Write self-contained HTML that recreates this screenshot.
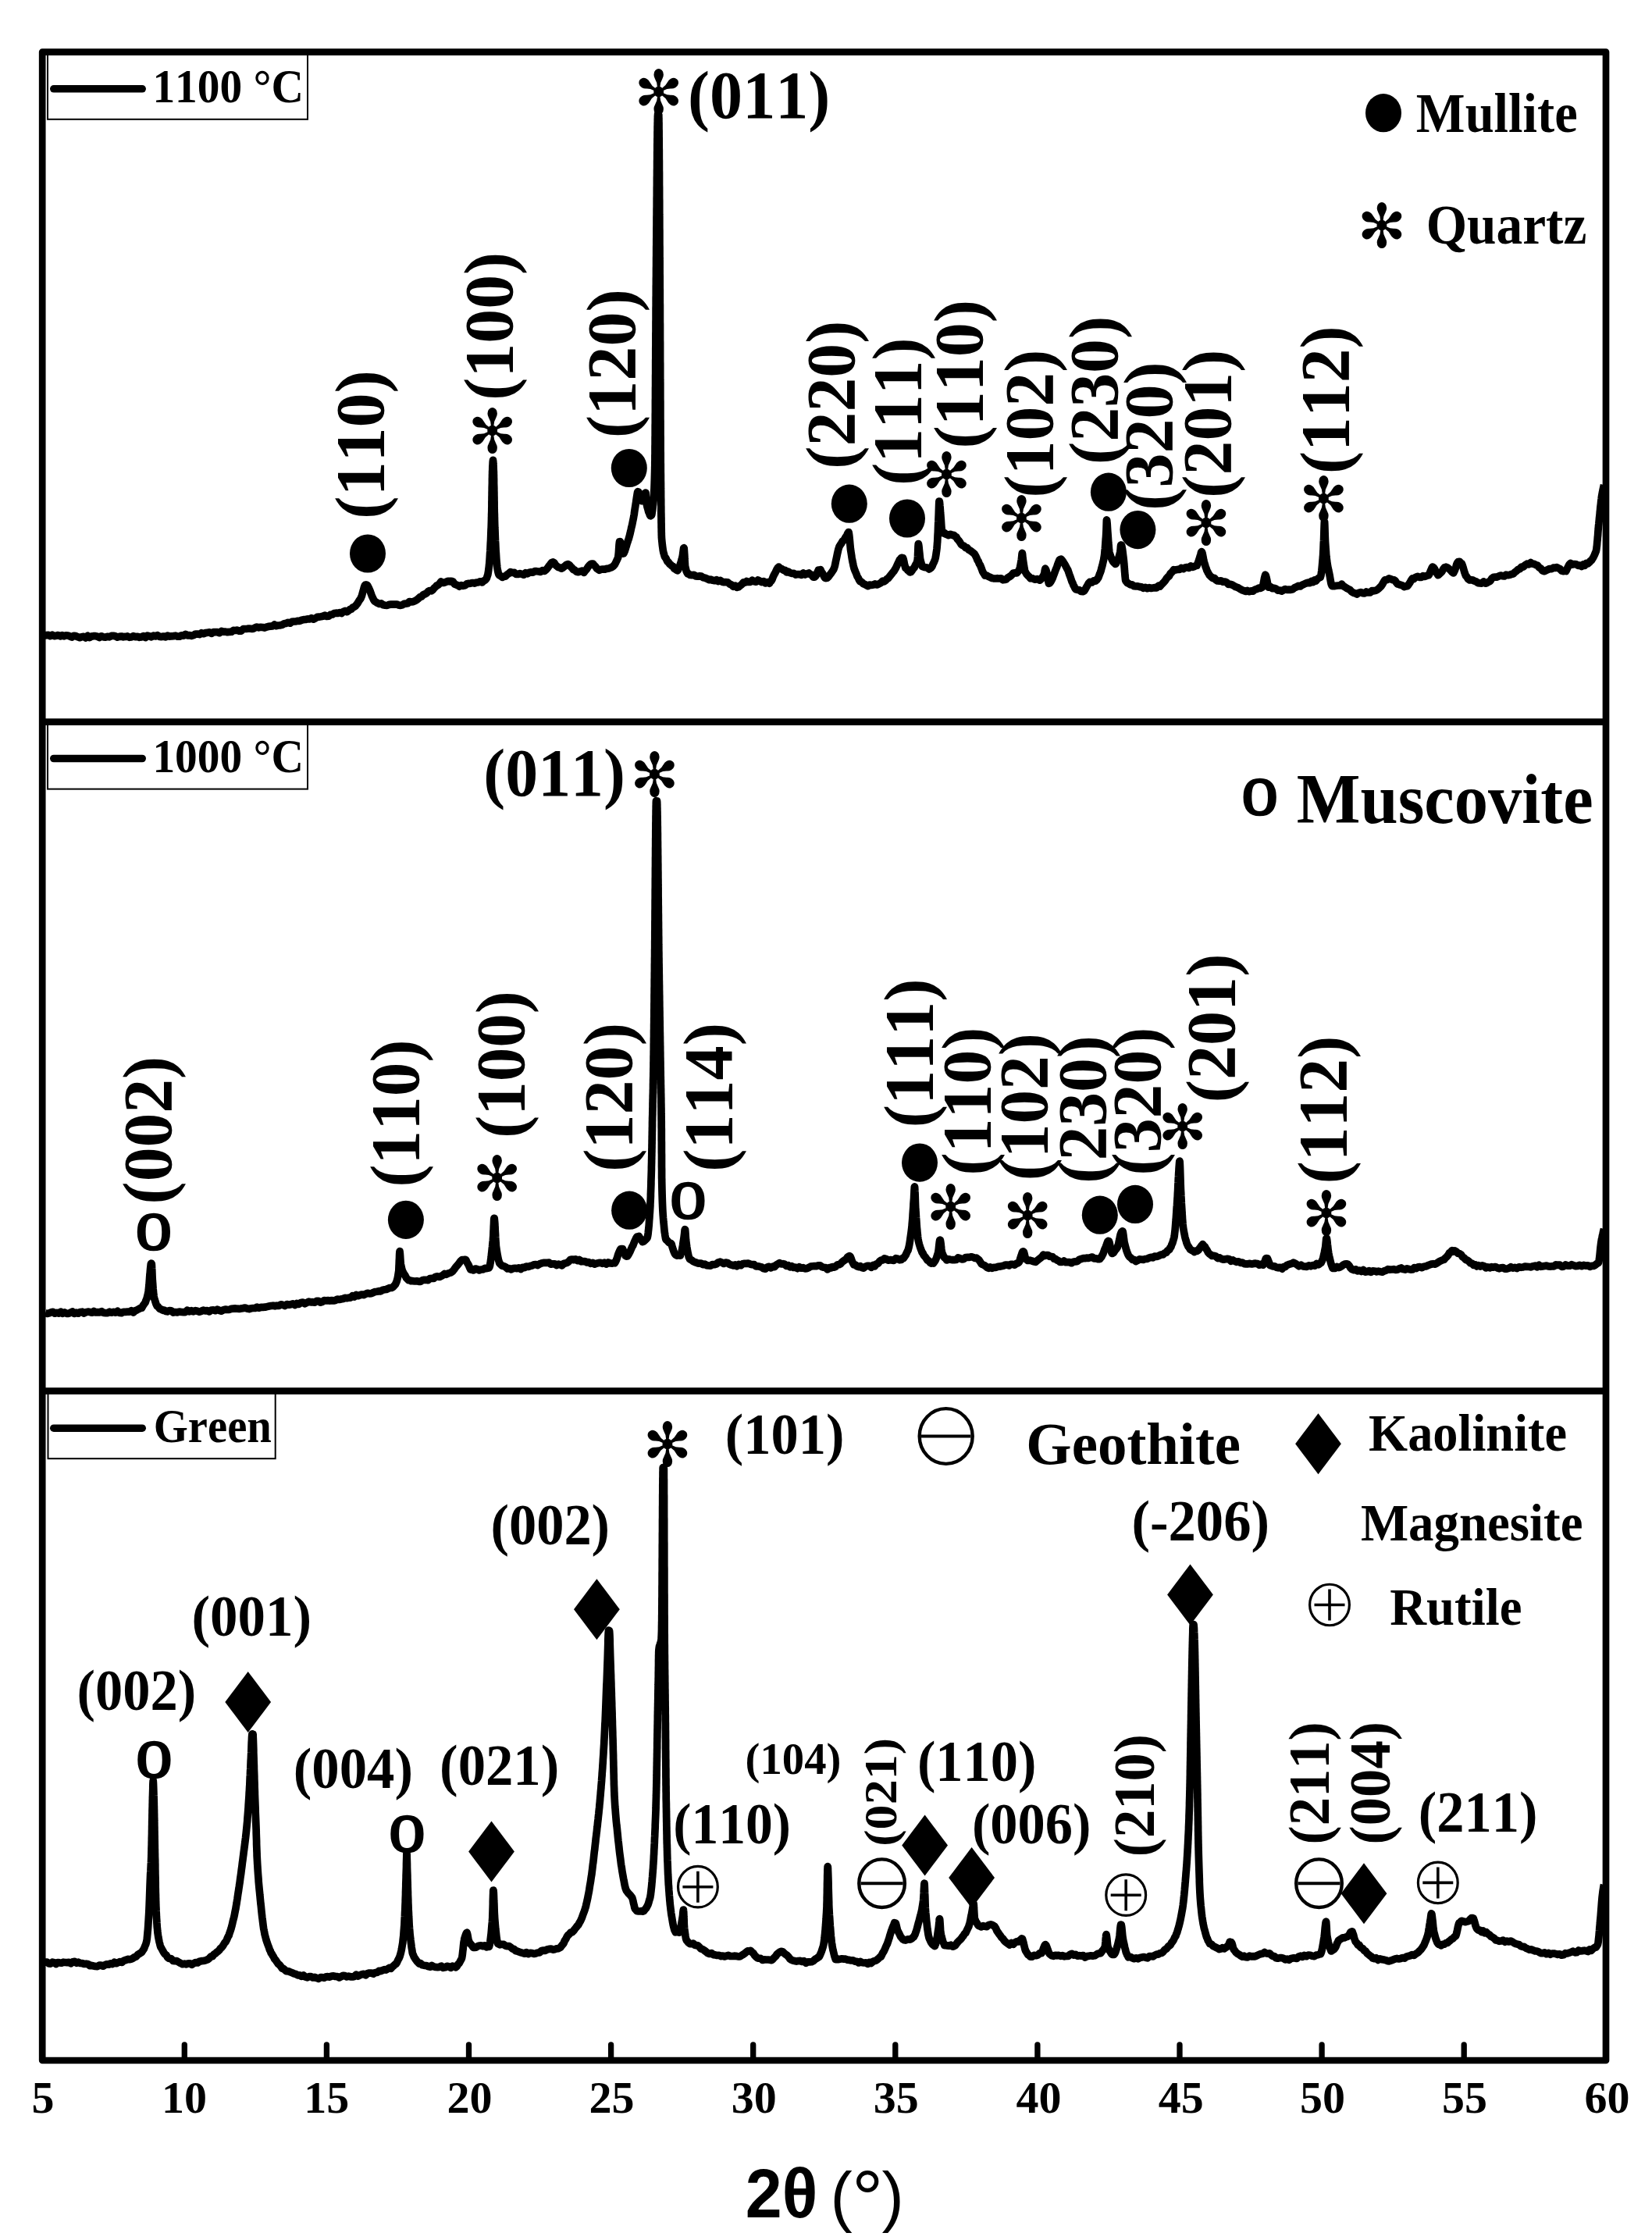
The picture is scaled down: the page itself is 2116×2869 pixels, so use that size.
<!DOCTYPE html>
<html><head><meta charset="utf-8"><title>XRD patterns</title>
<style>html,body{margin:0;padding:0;background:#fff}svg{display:block}text{font-kerning:none;fill:#000}</style></head>
<body><svg width="2116" height="2869" viewBox="0 0 2116 2869">
<rect width="2116" height="2869" fill="#fff"/>
<rect x="61" y="69.5" width="333" height="83.30000000000001" fill="#fff" stroke="#000" stroke-width="2"/>
<path d="M68.8 113.8H182.2" stroke="#000" stroke-width="9.6" stroke-linecap="round"/>
<rect x="61" y="927.5" width="333" height="83.10000000000002" fill="#fff" stroke="#000" stroke-width="2"/>
<path d="M68.8 971.5H182.2" stroke="#000" stroke-width="9.6" stroke-linecap="round"/>
<rect x="61.5" y="1785" width="291.2" height="83.20000000000005" fill="#fff" stroke="#000" stroke-width="2"/>
<path d="M68.8 1829.2H182.2" stroke="#000" stroke-width="9.6" stroke-linecap="round"/>
<g fill="none" stroke="#000" stroke-width="8.7" stroke-linejoin="round">
<rect x="54.2" y="66.6" width="2002.8" height="2572.4"/>
<path d="M54.2 924.6H2057.0M54.2 1781.7H2057.0"/>
</g>
<path d="M236.3 2639.0V2619M418.4 2639.0V2619M600.5 2639.0V2619M782.6 2639.0V2619M964.7 2639.0V2619M1146.8 2639.0V2619M1328.9 2639.0V2619M1511.0 2639.0V2619M1693.1 2639.0V2619M1875.2 2639.0V2619" stroke="#000" stroke-width="7.3" stroke-linecap="round" fill="none"/>
<text transform="translate(40.60,2706.00) scale(1.0000,1)" font-family="Liberation Serif, serif" font-weight="bold" font-size="58">5</text>
<text transform="translate(207.08,2706.00) scale(1.0000,1)" font-family="Liberation Serif, serif" font-weight="bold" font-size="58">10</text>
<text transform="translate(389.14,2706.00) scale(1.0000,1)" font-family="Liberation Serif, serif" font-weight="bold" font-size="58">15</text>
<text transform="translate(572.39,2706.00) scale(1.0000,1)" font-family="Liberation Serif, serif" font-weight="bold" font-size="58">20</text>
<text transform="translate(754.44,2706.00) scale(1.0000,1)" font-family="Liberation Serif, serif" font-weight="bold" font-size="58">25</text>
<text transform="translate(936.71,2706.00) scale(1.0000,1)" font-family="Liberation Serif, serif" font-weight="bold" font-size="58">30</text>
<text transform="translate(1118.77,2706.00) scale(1.0000,1)" font-family="Liberation Serif, serif" font-weight="bold" font-size="58">35</text>
<text transform="translate(1301.61,2706.00) scale(1.0000,1)" font-family="Liberation Serif, serif" font-weight="bold" font-size="58">40</text>
<text transform="translate(1483.67,2706.00) scale(1.0000,1)" font-family="Liberation Serif, serif" font-weight="bold" font-size="58">45</text>
<text transform="translate(1665.04,2706.00) scale(1.0000,1)" font-family="Liberation Serif, serif" font-weight="bold" font-size="58">50</text>
<text transform="translate(1847.10,2706.00) scale(1.0000,1)" font-family="Liberation Serif, serif" font-weight="bold" font-size="58">55</text>
<text transform="translate(2029.41,2706.00) scale(1.0000,1)" font-family="Liberation Serif, serif" font-weight="bold" font-size="58">60</text>
<text transform="translate(195.40,131.00) scale(0.9493,1)" font-family="Liberation Serif, serif" font-weight="bold" font-size="60.5">1100 °C</text>
<text transform="translate(195.40,988.80) scale(0.9493,1)" font-family="Liberation Serif, serif" font-weight="bold" font-size="60.5">1000 °C</text>
<text transform="translate(196.73,1846.50) scale(0.9371,1)" font-family="Liberation Serif, serif" font-weight="bold" font-size="60.5">Green</text>
<path d="M57.0,814.0 59.5,813.6 62.0,813.3 64.5,814.7 67.0,813.2 69.5,814.6 72.0,814.2 74.6,813.5 77.1,814.8 79.6,813.6 82.1,814.8 84.6,813.8 87.1,814.0 89.6,815.0 92.1,816.1 94.6,814.3 97.1,814.6 99.6,815.8 102.1,816.7 104.6,815.7 107.1,815.3 109.7,816.9 112.2,814.4 114.7,816.6 117.2,815.1 119.7,814.7 122.2,814.6 124.7,815.2 127.3,816.6 129.8,814.8 132.4,815.9 135.0,816.1 137.5,815.3 140.1,815.8 142.7,814.4 145.3,814.4 147.8,814.8 150.4,816.1 153.0,815.4 155.5,815.0 158.1,815.8 160.7,815.4 163.2,814.9 165.8,816.3 168.4,816.0 171.0,814.7 173.5,815.6 176.1,815.4 178.7,816.3 181.2,815.9 183.8,814.6 186.4,816.5 188.9,814.1 191.5,814.9 194.1,815.8 196.7,814.1 199.2,815.0 201.8,813.7 204.4,815.4 206.9,815.6 209.5,815.0 212.1,815.8 214.6,814.2 217.2,815.1 219.7,814.8 222.3,814.6 224.9,814.2 227.4,815.1 230.0,815.2 232.5,813.8 235.1,814.1 237.7,812.4 240.2,813.9 242.8,813.6 245.3,814.3 247.9,813.6 250.5,812.0 253.0,812.1 255.6,812.6 258.2,810.7 260.7,811.6 263.3,810.6 265.8,810.2 268.4,809.8 271.0,811.4 273.5,809.5 276.1,809.6 278.6,809.7 281.2,810.7 283.8,808.4 286.3,809.1 288.9,809.1 291.4,809.7 294.0,809.3 296.5,809.2 299.0,807.4 301.5,807.5 304.0,807.1 306.5,808.2 309.0,808.1 311.5,805.7 314.0,805.5 316.5,805.3 319.0,805.0 321.5,805.3 324.0,805.3 326.5,804.1 329.0,803.1 331.5,803.8 334.0,803.3 336.5,803.5 339.0,804.1 341.5,803.1 344.0,802.3 346.5,802.1 349.0,801.9 351.5,800.0 354.0,801.7 356.5,801.0 359.0,800.8 361.5,800.2 364.0,798.8 366.5,798.4 369.0,797.3 371.5,798.2 374.0,796.4 376.5,796.0 379.0,795.9 381.5,795.3 383.9,795.3 386.4,794.2 388.9,793.6 391.4,793.5 393.8,792.9 396.3,793.0 398.8,791.7 401.2,793.2 403.7,792.1 406.2,790.4 408.6,790.1 411.1,789.8 413.6,789.3 416.1,788.2 418.5,789.4 421.0,789.2 423.3,787.4 425.7,787.0 428.0,785.6 430.4,785.2 432.7,785.4 435.1,784.7 437.4,785.5 439.8,783.4 442.1,782.4 444.5,783.7 446.8,781.9 448.5,780.3 450.1,780.1 451.8,778.0 453.5,777.4 455.1,776.4 456.8,774.3 458.5,772.0 460.1,769.1 461.8,766.8 462.7,764.9 463.6,762.7 464.4,759.4 465.3,756.4 466.2,752.9 467.1,750.2 467.9,749.1 468.8,749.3 469.9,749.1 471.0,750.3 472.0,752.3 473.1,754.8 474.2,757.3 475.3,760.6 476.4,763.4 477.5,765.8 478.5,768.0 479.6,769.9 480.7,770.5 483.2,772.2 485.8,773.5 488.3,772.9 490.8,774.7 493.4,775.2 495.9,775.5 498.4,774.3 500.9,774.1 503.5,774.2 506.0,774.2 508.3,774.1 510.6,775.0 513.0,775.4 515.3,774.8 517.6,773.4 519.9,773.2 522.2,772.8 524.5,770.5 526.9,771.0 529.2,770.7 531.5,769.6 533.6,768.5 535.8,766.7 537.9,764.7 540.0,764.1 542.1,761.7 544.2,760.9 546.4,759.7 548.5,757.4 550.5,756.5 552.5,756.8 554.5,755.3 556.2,753.1 558.0,751.5 559.7,749.7 561.4,749.1 563.1,747.4 564.9,745.0 566.6,746.1 569.0,746.3 571.5,745.3 573.9,744.3 576.3,744.8 578.3,744.3 580.3,745.1 582.3,748.2 584.4,748.9 586.4,749.7 588.4,751.2 590.8,749.7 593.2,750.4 595.7,749.8 598.1,747.8 600.5,747.4 602.9,747.1 605.4,746.6 607.8,747.1 610.2,746.0 612.6,745.9 615.1,744.8 617.5,745.9 619.5,744.0 621.5,742.9 622.5,741.9 623.5,740.2 624.5,736.9 624.9,735.9 625.2,733.8 625.6,731.5 625.9,728.9 626.3,725.8 626.5,724.1 626.7,721.8 626.9,719.3 627.1,716.7 627.3,713.6 627.4,711.9 627.5,710.1 627.6,708.2 627.8,706.1 627.9,704.1 628.0,702.0 628.1,699.8 628.2,697.4 628.3,695.1 628.5,692.6 628.6,690.0 628.7,687.4 628.8,684.5 628.9,681.6 629.0,678.6 629.2,675.4 629.3,672.0 629.4,668.6 629.5,665.0 629.5,663.3 629.6,661.4 629.6,659.2 629.7,656.9 629.8,654.4 629.8,651.8 629.9,649.0 629.9,646.1 629.9,643.2 630.0,640.1 630.0,637.1 630.1,634.0 630.1,630.9 630.2,627.8 630.2,624.8 630.3,621.8 630.4,618.9 630.4,616.2 630.4,613.5 630.5,611.0 630.5,608.6 630.6,606.5 630.6,604.4 630.7,602.8 630.8,601.3 630.8,599.9 630.9,597.0 631.1,594.2 631.2,591.7 631.4,590.3 631.5,589.4 631.6,590.1 631.8,591.8 631.9,594.2 632.1,596.9 632.2,600.0 632.2,601.2 632.3,602.7 632.4,604.5 632.4,606.4 632.5,608.6 632.5,611.0 632.6,613.5 632.6,616.2 632.6,618.9 632.7,621.8 632.8,624.8 632.8,627.8 632.9,630.9 632.9,634.0 633.0,637.1 633.0,640.2 633.1,643.1 633.1,646.1 633.1,648.9 633.2,651.8 633.2,654.4 633.3,656.9 633.4,659.2 633.4,661.4 633.5,663.3 633.5,665.0 633.6,668.6 633.7,672.1 633.8,675.4 634.0,678.7 634.1,681.7 634.2,684.6 634.3,687.6 634.4,690.2 634.5,692.8 634.7,695.5 634.8,697.8 634.9,700.2 635.0,702.2 635.1,704.5 635.2,706.4 635.4,708.5 635.5,710.2 635.6,712.0 635.7,713.7 635.9,716.8 636.1,719.5 636.4,722.1 636.6,724.6 636.8,726.4 637.0,727.8 637.6,731.1 638.2,733.8 638.9,735.7 639.5,736.7 641.4,737.7 643.4,739.4 645.3,738.4 647.4,738.2 649.5,736.0 651.7,734.5 653.8,732.7 656.2,733.5 658.7,733.3 661.1,735.5 663.6,735.5 666.0,734.6 668.4,735.3 670.8,736.2 673.1,733.7 675.5,734.8 677.9,733.3 680.2,732.9 682.6,733.2 685.0,731.7 687.5,731.7 690.0,732.0 692.4,732.5 694.9,730.6 697.4,731.4 699.2,730.0 701.0,728.0 702.8,725.4 704.7,723.1 706.5,720.8 708.3,720.0 710.0,721.0 711.7,723.8 713.4,725.2 715.1,726.7 716.8,726.8 719.0,728.2 721.1,727.1 723.3,725.3 725.4,723.4 727.6,722.7 729.3,723.7 731.0,725.7 732.6,727.3 734.3,729.5 736.0,730.0 738.4,732.2 740.8,732.7 743.2,731.9 745.6,731.2 748.0,733.3 749.7,730.9 751.3,729.2 753.0,726.4 754.7,724.4 756.3,722.7 758.0,722.0 759.6,722.1 761.2,724.2 762.8,725.6 764.4,728.0 766.0,729.2 767.6,730.3 770.0,729.3 772.4,729.0 774.8,729.1 777.2,728.3 779.6,728.2 782.0,727.1 783.4,726.8 784.8,725.7 786.2,724.5 787.5,722.9 788.9,720.1 790.3,717.2 791.7,714.1 791.9,712.4 792.1,710.4 792.4,707.5 792.6,704.2 792.8,701.1 793.0,698.0 793.3,695.4 793.5,693.8 793.7,693.8 794.3,693.6 794.9,696.2 795.5,699.3 796.1,702.8 796.7,705.9 797.3,708.3 797.9,709.1 798.8,709.0 799.6,707.2 800.5,705.2 801.4,702.2 802.3,699.3 803.1,696.5 804.0,693.9 804.6,691.8 805.2,690.4 805.8,688.2 806.4,686.0 807.0,683.7 807.5,681.4 808.1,678.8 808.7,675.9 809.3,673.7 809.9,670.9 810.5,667.9 811.1,665.0 811.5,663.1 811.9,660.6 812.3,658.6 812.6,655.9 813.0,653.3 813.4,650.8 813.8,648.4 814.2,645.6 814.6,643.3 814.9,640.9 815.3,638.3 815.7,635.9 816.1,633.1 816.6,630.4 817.0,629.7 817.8,630.0 818.7,632.2 819.5,634.7 820.3,637.6 821.2,639.8 822.0,641.7 823.0,639.8 824.0,637.7 825.0,634.4 826.0,631.9 827.0,631.0 827.2,632.4 827.4,634.8 827.7,637.9 827.9,641.2 828.1,644.2 828.3,646.0 829.1,649.6 830.0,652.5 830.8,655.8 831.6,657.3 832.4,659.7 833.2,660.8 834.0,659.2 834.4,660.0 834.8,659.1 835.1,657.3 835.5,654.7 835.9,651.8 836.2,648.5 836.6,645.1 837.0,640.9 837.1,639.8 837.2,638.4 837.3,637.0 837.4,635.4 837.5,633.4 837.6,631.6 837.7,629.3 837.9,627.0 838.0,624.4 838.1,621.6 838.2,618.7 838.3,615.4 838.4,611.9 838.5,608.2 838.6,604.2 838.7,600.0 838.7,599.2 838.7,598.3 838.8,597.3 838.8,596.3 838.8,595.2 838.8,593.9 838.8,592.7 838.8,591.3 838.9,589.8 838.9,588.3 838.9,586.7 838.9,585.1 838.9,583.3 839.0,581.5 839.0,579.6 839.0,577.7 839.0,575.7 839.0,573.6 839.0,571.5 839.1,569.3 839.1,567.1 839.1,564.8 839.1,562.5 839.1,560.1 839.2,557.6 839.2,555.1 839.2,552.6 839.2,550.0 839.2,547.4 839.2,544.7 839.3,542.0 839.3,539.2 839.3,536.4 839.3,533.6 839.3,530.8 839.4,527.9 839.4,524.9 839.4,522.0 839.4,519.0 839.4,516.0 839.4,512.9 839.5,509.9 839.5,506.8 839.5,503.7 839.5,500.6 839.5,497.4 839.6,494.3 839.6,491.1 839.6,487.9 839.6,484.7 839.6,481.5 839.7,478.3 839.7,475.1 839.7,471.9 839.7,468.7 839.7,465.5 839.7,462.2 839.8,459.0 839.8,455.8 839.8,452.6 839.8,449.4 839.8,446.2 839.9,443.0 839.9,439.8 839.9,436.7 839.9,433.5 839.9,430.4 839.9,427.3 840.0,424.2 840.0,421.1 840.0,418.1 840.0,415.1 840.0,412.1 840.1,409.1 840.1,406.2 840.1,403.2 840.1,400.4 840.1,397.5 840.1,394.7 840.2,391.9 840.2,389.2 840.2,386.5 840.2,383.9 840.2,381.3 840.3,378.7 840.3,376.2 840.3,373.7 840.3,371.3 840.3,368.9 840.3,366.6 840.4,364.3 840.4,362.1 840.4,360.0 840.4,356.9 840.5,353.7 840.5,350.5 840.5,347.3 840.5,344.0 840.6,340.7 840.6,337.4 840.6,334.1 840.6,330.7 840.7,327.3 840.7,323.9 840.7,320.5 840.7,317.1 840.8,313.6 840.8,310.1 840.8,306.6 840.9,303.1 840.9,299.6 840.9,296.2 840.9,292.7 841.0,289.2 841.0,285.6 841.0,282.1 841.0,278.6 841.1,275.2 841.1,271.7 841.1,268.2 841.2,264.7 841.2,261.3 841.2,257.9 841.2,254.4 841.3,251.0 841.3,247.7 841.3,244.3 841.3,241.0 841.4,237.7 841.4,234.4 841.4,231.2 841.4,228.0 841.5,224.8 841.5,221.7 841.5,218.6 841.6,215.5 841.6,212.5 841.6,209.5 841.6,206.6 841.7,203.7 841.7,200.9 841.7,198.1 841.7,195.3 841.8,192.7 841.8,190.0 841.8,187.5 841.8,185.0 841.9,182.5 841.9,180.2 841.9,177.9 842.0,175.6 842.0,173.4 842.0,171.3 842.0,169.3 842.1,167.4 842.1,165.5 842.1,163.7 842.1,162.0 842.2,160.4 842.2,158.8 842.2,157.3 842.3,156.0 842.3,154.7 842.3,153.5 842.3,152.4 842.4,151.5 842.4,150.5 842.4,149.7 842.4,148.9 842.5,148.3 842.5,148.0 842.5,147.4 842.5,147.5 842.6,147.1 842.6,146.1 843.7,146.9 843.7,147.0 843.7,147.2 843.8,147.6 843.8,147.8 843.8,148.4 843.8,148.9 843.8,149.7 843.8,150.4 843.9,151.3 843.9,152.3 843.9,153.4 843.9,154.6 843.9,155.9 844.0,157.2 844.0,158.7 844.0,160.2 844.0,161.8 844.0,163.5 844.0,165.3 844.1,167.1 844.1,169.0 844.1,171.0 844.1,173.1 844.1,175.2 844.2,177.5 844.2,179.7 844.2,182.1 844.2,184.5 844.2,187.0 844.2,189.5 844.3,192.1 844.3,194.8 844.3,197.5 844.3,200.2 844.3,203.1 844.4,205.9 844.4,208.8 844.4,211.8 844.4,214.8 844.4,217.8 844.5,220.9 844.5,224.0 844.5,227.2 844.5,230.4 844.5,233.6 844.5,236.8 844.6,240.1 844.6,243.4 844.6,246.8 844.6,250.1 844.6,253.5 844.7,257.0 844.7,260.4 844.7,263.8 844.7,267.3 844.7,270.8 844.7,274.2 844.8,277.7 844.8,281.2 844.8,284.8 844.8,288.3 844.8,291.8 844.9,295.3 844.9,298.8 844.9,302.4 844.9,305.9 844.9,309.4 844.9,312.9 845.0,316.3 845.0,319.8 845.0,323.3 845.0,326.7 845.0,330.2 845.1,333.6 845.1,337.0 845.1,340.3 845.1,343.7 845.1,347.0 845.1,350.3 845.2,353.6 845.2,356.8 845.2,360.0 845.2,362.1 845.2,364.2 845.2,366.4 845.2,368.6 845.3,370.9 845.3,373.2 845.3,375.5 845.3,377.9 845.3,380.4 845.3,382.8 845.3,385.3 845.3,387.9 845.4,390.5 845.4,393.1 845.4,395.7 845.4,398.4 845.4,401.1 845.4,403.8 845.4,406.6 845.4,409.4 845.4,412.2 845.5,415.1 845.5,417.9 845.5,420.8 845.5,423.7 845.5,426.6 845.5,429.5 845.5,432.5 845.5,435.5 845.6,438.5 845.6,441.4 845.6,444.5 845.6,447.5 845.6,450.5 845.6,453.5 845.6,456.6 845.6,459.6 845.6,462.6 845.7,465.7 845.7,468.7 845.7,471.8 845.7,474.8 845.7,477.9 845.7,480.9 845.7,484.0 845.7,487.0 845.8,490.0 845.8,493.1 845.8,496.1 845.8,499.1 845.8,502.0 845.8,505.0 845.8,508.0 845.8,510.9 845.9,513.8 845.9,516.7 845.9,519.6 845.9,522.5 845.9,525.3 845.9,528.1 845.9,530.9 845.9,533.7 845.9,536.4 846.0,539.2 846.0,541.8 846.0,544.5 846.0,547.1 846.0,549.7 846.0,552.3 846.0,554.8 846.0,557.3 846.1,559.7 846.1,562.1 846.1,564.5 846.1,566.8 846.1,569.1 846.1,571.3 846.1,573.5 846.1,575.6 846.1,577.7 846.2,579.8 846.2,581.8 846.2,583.7 846.2,585.6 846.2,587.4 846.2,589.2 846.2,590.9 846.2,592.6 846.3,594.2 846.3,595.7 846.3,597.2 846.3,598.6 846.3,600.0 846.3,603.8 846.4,607.6 846.4,611.4 846.4,615.1 846.5,618.8 846.5,622.5 846.5,626.0 846.6,629.6 846.6,633.1 846.6,636.5 846.7,639.9 846.7,643.1 846.7,646.3 846.8,649.5 846.8,652.5 846.8,655.5 846.9,658.3 846.9,661.1 847.0,663.8 847.0,666.4 847.0,668.8 847.1,671.2 847.1,673.4 847.1,675.5 847.2,677.5 847.2,679.3 847.2,681.1 847.3,682.7 847.3,684.0 847.3,685.4 847.4,686.5 847.4,687.5 847.4,688.3 847.5,689.0 847.5,689.5 848.0,694.6 848.4,698.5 848.9,702.1 849.3,705.1 849.8,707.5 850.2,708.8 850.6,710.2 851.1,712.1 851.5,713.2 852.0,713.7 853.4,715.9 854.9,719.2 856.3,720.2 857.7,722.4 859.1,723.3 860.6,724.9 862.0,725.3 863.6,728.2 865.3,729.3 866.9,730.3 867.8,730.8 868.7,729.6 869.6,727.2 870.5,725.2 871.3,722.8 872.2,720.1 873.1,716.9 874.0,713.4 874.4,711.4 874.8,708.5 875.2,705.3 875.6,702.3 876.0,701.7 876.2,702.3 876.3,703.7 876.5,706.4 876.7,709.3 876.9,712.7 877.0,716.1 877.2,719.4 877.4,722.2 877.5,724.4 877.7,725.8 878.5,729.0 879.2,731.8 880.0,733.5 880.7,734.8 881.5,734.5 883.9,736.5 886.3,736.7 888.8,736.3 891.2,737.9 893.6,738.2 896.0,737.9 898.4,738.1 900.8,739.8 903.2,740.3 905.6,741.3 908.0,742.6 910.4,742.2 912.9,743.3 915.3,743.7 917.7,742.7 920.1,744.5 922.5,743.3 925.0,745.2 927.4,745.7 929.8,745.7 932.1,745.8 934.5,747.9 936.9,748.9 939.3,751.2 941.6,750.1 944.0,752.3 946.0,751.8 948.1,750.0 950.1,748.6 952.2,745.9 954.2,746.1 956.3,744.5 958.7,745.5 961.1,745.3 963.6,743.2 966.0,744.8 968.4,745.2 970.8,743.0 973.3,744.1 975.7,745.6 978.1,744.6 980.5,746.9 983.0,745.7 985.4,747.3 986.6,745.2 987.8,744.1 989.0,742.2 990.2,738.8 991.4,736.3 992.6,734.3 993.8,731.9 995.0,729.2 996.3,727.3 997.5,726.1 999.5,728.3 1001.5,728.7 1003.5,730.3 1005.6,730.4 1007.6,732.8 1009.6,732.1 1012.0,733.7 1014.4,734.5 1016.8,734.4 1019.2,736.1 1021.6,735.5 1024.0,735.7 1026.4,736.4 1028.8,734.1 1031.2,736.0 1033.6,734.8 1036.0,734.0 1037.9,735.6 1039.8,736.3 1041.6,739.1 1043.5,739.2 1044.7,737.8 1045.9,735.9 1047.1,732.8 1048.3,730.1 1049.5,730.2 1050.9,729.6 1052.3,732.7 1053.8,734.7 1055.2,737.7 1056.6,740.3 1058.0,740.6 1059.6,740.3 1061.2,738.6 1062.8,736.4 1064.5,734.3 1066.1,731.9 1067.7,729.6 1068.3,728.0 1068.9,726.2 1069.5,724.1 1070.1,721.0 1070.7,718.1 1071.3,715.4 1072.0,712.0 1072.6,709.0 1073.2,706.5 1073.8,703.8 1074.4,701.9 1075.0,700.1 1076.4,697.8 1077.8,695.7 1079.2,693.3 1080.5,692.2 1081.9,690.2 1083.3,687.8 1084.5,686.3 1085.8,683.1 1087.0,681.5 1087.3,682.6 1087.6,684.6 1087.9,687.1 1088.2,690.1 1088.5,693.3 1088.8,696.7 1089.1,699.9 1089.4,703.0 1089.7,705.3 1090.2,708.3 1090.7,711.4 1091.1,714.2 1091.6,717.2 1092.1,719.8 1092.6,721.9 1093.1,724.5 1093.5,726.0 1094.0,728.0 1094.5,729.4 1095.7,732.4 1096.9,735.1 1098.1,738.5 1099.2,740.0 1100.4,742.6 1101.6,744.8 1102.8,744.9 1104.0,745.8 1105.9,747.7 1107.9,748.5 1109.8,749.6 1111.8,750.6 1113.7,749.1 1116.1,749.4 1118.5,749.0 1120.9,747.9 1123.4,749.0 1125.8,747.8 1128.2,746.7 1130.6,744.2 1132.4,744.9 1134.2,743.6 1136.0,741.7 1137.8,740.6 1139.6,738.3 1141.4,736.0 1143.2,733.7 1145.0,731.6 1146.0,729.8 1147.1,728.1 1148.1,726.1 1149.2,723.6 1150.2,721.4 1151.3,719.3 1152.3,717.1 1153.5,715.8 1154.8,714.3 1156.0,714.5 1156.6,714.7 1157.3,716.6 1157.9,719.8 1158.6,723.0 1159.2,725.1 1159.8,727.5 1161.2,728.3 1162.6,730.3 1164.0,731.3 1165.4,732.9 1166.8,732.6 1168.2,730.8 1169.7,728.4 1171.1,726.9 1172.5,723.8 1173.4,722.2 1174.3,720.9 1175.2,717.1 1175.3,715.6 1175.5,713.0 1175.6,709.8 1175.8,706.1 1175.9,702.6 1176.0,699.6 1176.2,697.5 1176.3,696.5 1176.6,697.5 1176.9,699.3 1177.2,702.1 1177.5,705.4 1177.9,709.0 1178.2,712.2 1178.5,715.3 1178.8,716.8 1179.6,719.9 1180.4,722.6 1181.2,725.4 1182.0,725.7 1184.0,726.4 1186.0,726.8 1188.0,727.2 1190.0,729.0 1191.2,728.4 1192.5,727.3 1193.8,725.6 1195.0,722.6 1196.2,720.3 1197.5,716.9 1197.8,716.1 1198.2,714.6 1198.5,712.9 1198.9,710.4 1199.2,708.3 1199.6,705.6 1200.0,702.5 1200.3,698.9 1200.4,697.6 1200.5,695.9 1200.7,694.1 1200.8,692.1 1200.9,689.8 1201.0,687.4 1201.1,684.8 1201.3,682.1 1201.4,679.3 1201.5,676.5 1201.6,673.6 1201.7,670.9 1201.9,668.0 1202.0,665.3 1202.1,662.6 1202.2,660.1 1202.3,657.3 1202.4,654.2 1202.5,651.1 1202.6,648.1 1202.7,645.5 1202.8,643.5 1202.9,642.0 1203.0,642.2 1203.2,642.0 1203.5,643.1 1203.7,645.2 1203.9,647.7 1204.2,650.6 1204.4,653.6 1204.6,656.8 1204.9,659.8 1205.1,662.5 1205.3,665.2 1205.5,668.1 1205.7,671.5 1205.9,674.4 1206.1,677.0 1206.3,678.9 1206.5,680.3 1208.0,682.8 1209.6,682.4 1211.2,684.1 1212.7,684.5 1215.0,685.6 1217.2,684.3 1219.5,685.3 1221.7,685.3 1223.3,687.1 1224.8,687.7 1226.4,690.6 1227.9,692.1 1229.5,694.3 1231.0,697.0 1232.6,698.4 1234.7,699.3 1236.8,701.6 1238.9,701.7 1240.9,704.2 1243.0,705.3 1245.1,706.9 1247.2,708.6 1248.4,709.8 1249.6,711.9 1250.8,714.3 1252.0,717.4 1253.2,719.1 1254.4,722.4 1255.4,723.7 1256.5,726.4 1257.5,729.0 1258.6,732.1 1259.6,733.8 1260.7,735.3 1261.7,737.2 1263.9,737.1 1266.1,738.5 1268.2,739.3 1270.4,740.4 1272.6,740.8 1275.0,741.0 1277.4,740.7 1279.8,741.0 1282.2,740.8 1284.6,742.8 1287.0,742.5 1288.8,742.1 1290.7,740.0 1292.5,739.0 1294.3,737.9 1296.2,736.1 1298.0,734.0 1300.2,733.7 1302.5,733.8 1304.7,731.2 1305.3,730.3 1305.9,728.7 1306.5,726.6 1307.1,723.8 1307.7,720.2 1308.3,716.8 1308.5,714.9 1308.8,712.2 1309.0,710.0 1309.3,708.4 1309.6,709.8 1309.8,712.0 1310.1,714.9 1310.4,717.1 1310.8,719.7 1311.3,723.1 1311.7,725.6 1312.1,728.2 1312.6,730.6 1313.0,731.9 1314.7,735.0 1316.5,737.1 1318.2,738.6 1319.9,740.8 1321.7,740.6 1323.4,741.3 1325.8,742.2 1328.3,741.6 1330.7,742.6 1332.0,743.1 1333.4,741.9 1334.7,740.0 1336.1,738.0 1337.4,735.3 1337.9,732.9 1338.4,730.0 1338.9,728.2 1339.7,729.7 1340.5,732.4 1341.3,735.3 1341.7,737.5 1342.1,740.6 1342.6,743.4 1343.0,745.6 1343.4,747.3 1344.5,746.9 1345.7,745.3 1346.8,743.3 1348.0,741.0 1349.1,738.0 1350.3,735.0 1351.4,731.8 1352.6,728.7 1353.7,726.3 1354.5,723.6 1355.4,721.3 1356.2,719.1 1357.1,717.2 1357.9,716.6 1359.2,716.2 1360.5,717.7 1361.8,719.6 1363.2,721.9 1364.5,723.9 1365.8,726.4 1366.8,728.5 1367.8,730.0 1368.8,733.0 1369.8,735.9 1370.8,738.5 1371.8,741.5 1372.9,744.8 1373.9,746.6 1374.9,749.5 1375.9,751.1 1376.9,753.4 1377.9,754.8 1380.2,755.4 1382.5,755.7 1384.7,757.5 1387.0,757.7 1388.5,757.1 1390.0,754.8 1391.5,752.2 1393.0,749.6 1394.5,746.9 1396.0,745.4 1398.4,746.0 1400.9,743.8 1403.3,744.2 1404.2,743.1 1405.0,742.8 1405.9,740.8 1406.7,740.3 1407.6,737.9 1408.4,735.5 1409.3,733.4 1410.2,730.8 1411.0,727.5 1411.9,724.5 1412.7,720.9 1413.6,717.2 1413.8,715.9 1414.0,714.5 1414.3,713.0 1414.5,711.5 1414.7,709.7 1414.9,707.5 1415.1,705.1 1415.4,702.9 1415.6,700.1 1415.8,697.3 1416.0,694.3 1416.2,691.3 1416.5,688.0 1416.7,684.5 1416.9,680.8 1417.0,678.5 1417.1,675.3 1417.2,671.9 1417.3,668.6 1417.4,666.3 1417.5,665.9 1417.7,666.3 1417.9,668.2 1418.2,671.1 1418.4,674.5 1418.6,677.8 1418.8,680.9 1419.0,683.4 1419.2,686.3 1419.4,689.2 1419.6,692.3 1419.8,695.3 1420.1,698.2 1420.3,700.8 1420.5,703.2 1420.7,705.5 1420.9,706.9 1421.1,707.8 1422.2,711.4 1423.3,714.5 1424.4,716.9 1425.4,719.0 1426.5,720.5 1427.6,720.8 1428.7,722.5 1429.7,721.4 1430.7,719.0 1431.7,717.8 1432.6,715.2 1433.6,711.9 1434.6,707.8 1434.9,706.3 1435.2,703.6 1435.4,700.5 1435.7,698.2 1436.0,698.6 1436.4,698.1 1436.8,699.2 1437.2,701.3 1437.7,704.0 1438.1,707.1 1438.5,710.6 1438.9,713.7 1439.3,716.9 1439.5,719.3 1439.8,721.9 1440.0,724.7 1440.3,728.0 1440.5,731.2 1440.8,734.5 1441.0,737.4 1441.3,740.1 1441.5,742.3 1441.8,743.9 1442.0,744.0 1444.0,746.7 1446.0,747.6 1448.0,748.8 1450.0,748.8 1452.4,750.6 1454.9,750.8 1457.3,750.9 1459.8,751.6 1462.2,751.9 1464.6,753.3 1467.1,752.4 1469.5,753.6 1471.9,752.7 1474.3,753.4 1476.8,753.0 1479.2,752.6 1481.6,752.8 1484.0,750.2 1485.7,751.1 1487.4,749.1 1489.1,747.4 1490.9,745.5 1492.6,743.6 1494.3,740.8 1496.0,738.9 1497.5,737.9 1499.0,734.7 1500.4,733.5 1501.9,731.9 1503.4,729.7 1505.8,730.0 1508.3,729.4 1510.7,729.4 1513.1,727.5 1515.6,728.6 1518.0,727.0 1520.4,726.6 1522.8,727.4 1525.2,724.9 1527.5,726.3 1529.9,725.6 1532.3,724.3 1533.1,724.3 1533.9,722.1 1534.8,720.0 1535.6,717.5 1536.4,715.1 1537.2,712.3 1537.9,710.1 1538.5,707.6 1539.2,706.6 1539.7,707.5 1540.2,709.1 1540.8,712.1 1541.3,714.8 1541.8,717.7 1542.3,719.6 1543.2,722.6 1544.1,725.7 1545.0,728.0 1545.8,730.5 1546.7,732.2 1547.6,734.0 1548.5,735.4 1549.4,736.9 1551.4,738.9 1553.4,740.6 1555.5,740.4 1557.5,742.8 1559.5,744.0 1561.5,744.1 1563.9,743.9 1566.4,745.2 1568.8,745.1 1571.2,746.1 1573.6,748.4 1576.1,748.4 1578.5,749.2 1580.6,750.4 1582.8,751.7 1584.9,752.3 1587.1,753.5 1589.2,754.8 1591.4,756.0 1593.5,756.7 1595.7,757.5 1597.8,756.5 1600.2,757.7 1602.6,756.9 1605.0,757.2 1607.4,755.1 1609.8,754.5 1612.2,753.2 1614.6,753.4 1617.0,752.0 1617.7,750.0 1618.3,747.1 1618.9,743.9 1619.5,740.5 1620.2,737.9 1620.8,736.2 1621.5,737.6 1622.2,740.3 1622.9,743.6 1623.6,747.1 1624.3,750.1 1625.0,752.1 1627.4,751.6 1629.7,753.7 1632.1,753.3 1634.4,754.1 1636.8,756.2 1639.1,756.0 1641.5,757.1 1643.8,755.9 1646.2,754.6 1648.6,755.3 1651.0,755.2 1653.4,755.3 1655.8,754.7 1658.2,752.8 1660.6,751.8 1663.0,750.4 1665.4,750.9 1667.9,749.2 1670.3,748.2 1672.7,747.1 1675.1,746.2 1677.6,746.6 1680.0,744.4 1681.9,745.5 1683.8,743.0 1685.6,744.0 1687.5,741.6 1689.4,740.2 1691.3,739.3 1691.6,738.1 1691.9,737.3 1692.2,735.4 1692.5,733.3 1692.8,731.1 1693.1,728.3 1693.4,725.3 1693.7,722.0 1694.0,718.4 1694.3,715.0 1694.4,713.3 1694.6,711.3 1694.7,709.2 1694.8,706.6 1695.0,704.1 1695.1,701.4 1695.2,698.5 1695.3,695.7 1695.5,693.0 1695.6,690.6 1695.7,687.6 1695.8,684.4 1695.9,681.1 1696.0,677.7 1696.1,674.8 1696.2,672.0 1696.3,669.8 1696.4,668.4 1696.5,668.1 1696.6,668.5 1696.7,670.1 1696.8,672.2 1696.9,675.1 1697.0,678.2 1697.1,681.6 1697.2,685.0 1697.3,688.1 1697.4,690.8 1697.5,693.1 1697.7,696.3 1697.9,699.2 1698.1,702.0 1698.3,704.6 1698.5,707.0 1698.6,709.5 1698.8,711.5 1699.0,713.4 1699.2,714.9 1699.6,718.5 1700.1,721.7 1700.5,724.3 1700.9,726.6 1701.4,728.7 1701.8,730.8 1702.3,733.1 1702.7,734.9 1703.3,738.0 1703.8,741.0 1704.4,744.3 1704.9,747.0 1705.5,749.0 1706.0,750.2 1706.6,750.6 1709.0,750.7 1711.4,750.3 1713.9,750.0 1716.3,750.0 1718.5,748.2 1720.6,750.7 1722.8,751.8 1725.0,753.4 1727.2,754.5 1729.3,755.6 1731.5,758.1 1733.7,759.3 1735.8,759.9 1738.0,761.0 1740.4,759.3 1742.9,758.5 1745.3,759.6 1747.7,759.9 1750.1,758.0 1752.6,758.9 1755.0,758.8 1757.4,756.6 1759.8,756.8 1762.3,756.2 1764.7,754.9 1766.2,753.6 1767.8,752.0 1769.3,750.5 1770.8,748.1 1772.3,745.4 1773.9,742.9 1775.4,742.7 1776.9,742.4 1779.3,740.9 1781.6,741.8 1784.0,742.7 1785.5,742.9 1787.0,743.9 1788.4,745.9 1789.9,747.9 1791.4,748.2 1793.8,749.2 1796.2,749.9 1798.6,751.6 1801.0,750.9 1802.6,750.7 1804.3,748.6 1805.9,746.3 1807.5,743.3 1809.2,740.9 1810.8,741.5 1813.2,739.4 1815.6,738.3 1818.0,739.3 1820.4,739.5 1822.8,737.6 1825.2,738.4 1827.6,737.3 1830.0,736.8 1831.0,734.9 1832.0,732.3 1833.0,730.0 1834.0,727.5 1835.0,726.0 1836.4,727.1 1837.8,729.1 1839.2,732.5 1840.6,734.4 1842.0,736.7 1843.7,735.3 1845.3,733.8 1847.0,731.9 1848.7,728.8 1850.3,726.8 1852.0,726.2 1853.9,727.0 1855.8,728.4 1857.8,730.2 1859.7,732.5 1861.6,734.0 1862.6,732.0 1863.6,730.0 1864.7,726.7 1865.7,722.9 1866.7,720.9 1867.7,719.5 1869.6,719.3 1871.4,721.9 1872.3,721.8 1873.2,724.1 1874.1,726.8 1875.0,730.0 1875.8,732.8 1876.7,735.4 1877.6,737.6 1878.5,738.4 1880.5,741.5 1882.6,743.0 1884.6,742.7 1886.6,743.1 1888.7,744.2 1890.7,744.8 1893.1,746.6 1895.5,746.9 1898.0,747.1 1900.4,745.1 1902.8,747.2 1904.8,746.4 1906.9,745.1 1908.9,744.1 1910.9,740.8 1912.9,739.3 1915.0,739.2 1917.0,739.1 1919.4,738.2 1921.9,737.0 1924.3,737.7 1926.7,738.0 1929.1,736.2 1931.6,736.6 1934.0,736.2 1936.1,735.4 1938.2,735.0 1940.3,732.9 1942.5,731.3 1944.6,729.3 1946.7,728.6 1948.8,726.0 1951.2,726.1 1953.5,723.8 1955.9,722.2 1958.3,722.9 1960.6,720.6 1963.0,722.2 1965.1,722.3 1967.2,723.6 1969.3,724.2 1971.5,726.8 1973.6,728.1 1975.7,731.0 1977.8,731.7 1980.2,730.7 1982.5,729.6 1984.9,728.5 1987.3,728.7 1989.6,727.2 1992.0,727.4 1994.1,726.6 1996.2,727.8 1998.2,728.7 2000.3,731.1 2002.4,731.7 2004.5,731.0 2005.9,731.5 2007.4,728.2 2008.8,725.4 2010.3,722.6 2011.7,721.4 2014.1,723.1 2016.5,722.5 2019.0,722.9 2021.4,724.3 2023.8,724.1 2025.8,725.4 2027.9,723.1 2029.9,724.2 2031.9,721.4 2034.0,721.8 2036.0,720.1 2037.2,718.4 2038.4,717.7 2039.6,715.9 2040.8,714.0 2042.0,711.5 2043.2,708.8 2044.4,705.7 2044.6,704.6 2044.9,703.1 2045.1,701.0 2045.4,699.0 2045.6,696.8 2045.8,694.0 2046.1,691.5 2046.3,688.5 2046.6,685.8 2046.8,682.5 2047.0,679.8 2047.3,676.8 2047.5,673.9 2047.8,671.3 2048.0,669.1 2048.3,666.4 2048.5,663.7 2048.8,661.1 2049.1,658.6 2049.3,655.7 2049.6,653.2 2049.8,650.5 2050.1,647.9 2050.4,645.6 2050.6,643.3 2050.9,640.8 2051.2,638.6 2051.4,636.6 2051.7,635.0 2052.1,632.4 2052.6,630.0 2053.0,627.8 2053.5,625.6 2054.0,623.3 2054.5,621.0" fill="none" stroke="#000" stroke-width="9.7" stroke-linejoin="round" stroke-linecap="butt"/>
<path d="M58.0,1681.7 60.5,1682.5 63.0,1681.9 65.4,1680.8 67.9,1680.4 70.4,1682.2 72.9,1681.3 75.4,1682.1 77.9,1680.3 80.3,1682.3 82.8,1681.0 85.3,1682.3 87.8,1682.4 90.3,1681.3 92.7,1680.0 95.2,1682.4 97.7,1681.2 100.2,1682.2 102.7,1680.5 105.2,1680.2 107.6,1682.0 110.1,1680.7 112.6,1680.1 115.1,1680.6 117.7,1681.2 120.2,1679.5 122.7,1680.9 125.3,1680.7 127.8,1680.9 130.3,1679.7 132.8,1681.4 135.4,1681.6 137.9,1681.7 140.4,1680.2 143.0,1681.2 145.5,1680.3 148.0,1681.2 150.6,1679.3 153.1,1681.5 155.6,1681.6 158.1,1680.3 160.7,1680.3 163.2,1680.2 165.7,1680.1 168.3,1678.6 170.8,1681.1 173.1,1678.8 175.4,1677.9 177.7,1676.6 180.0,1675.5 181.5,1675.3 183.1,1672.4 184.6,1670.3 186.1,1668.2 186.8,1666.3 187.4,1664.5 188.1,1663.0 188.7,1660.5 189.4,1657.6 190.0,1654.4 190.2,1652.7 190.4,1651.2 190.6,1649.0 190.9,1646.4 191.1,1643.8 191.3,1641.1 191.5,1638.3 191.7,1635.4 191.9,1632.5 192.2,1630.0 192.4,1627.4 192.6,1625.3 192.8,1623.0 193.1,1620.5 193.3,1619.0 193.8,1618.0 194.3,1618.9 194.4,1620.1 194.5,1621.9 194.6,1624.3 194.8,1627.2 194.9,1630.2 195.0,1633.0 195.1,1635.5 195.2,1637.5 195.4,1641.0 195.7,1644.2 195.9,1647.4 196.1,1650.4 196.4,1653.2 196.6,1655.9 196.9,1658.1 197.1,1660.1 197.4,1661.8 197.6,1663.2 197.9,1663.7 199.0,1667.4 200.1,1670.6 201.2,1672.8 202.4,1673.5 203.5,1675.0 204.6,1676.2 206.5,1677.0 208.5,1678.3 210.4,1678.1 212.4,1679.4 214.3,1679.8 216.9,1678.5 219.4,1678.8 222.0,1681.1 224.6,1680.5 227.1,1680.9 229.7,1680.0 232.3,1680.5 234.8,1680.6 237.4,1680.6 239.9,1678.2 242.5,1679.8 245.1,1678.7 247.6,1679.8 250.2,1678.6 252.8,1679.3 255.3,1680.2 257.9,1679.3 260.4,1678.2 263.0,1678.9 265.5,1678.6 268.1,1679.9 270.6,1678.0 273.2,1677.9 275.7,1678.7 278.3,1677.2 280.8,1678.3 283.4,1679.2 285.9,1677.9 288.5,1677.1 291.0,1677.4 293.6,1677.5 296.1,1676.3 298.7,1676.1 301.2,1675.9 303.8,1676.2 306.3,1676.4 308.9,1675.9 311.4,1675.6 314.0,1675.0 316.5,1676.0 319.1,1676.6 321.6,1675.8 324.2,1675.5 326.7,1675.5 329.3,1674.1 331.8,1675.2 334.4,1674.3 336.9,1674.3 339.5,1674.2 342.0,1673.6 344.6,1673.0 347.1,1672.5 349.7,1672.2 352.2,1672.8 354.8,1672.2 357.3,1672.5 359.9,1670.8 362.4,1671.4 365.0,1672.5 367.5,1670.6 370.1,1671.2 372.6,1670.7 375.2,1669.9 377.7,1671.5 380.3,1669.4 382.8,1670.4 385.4,1668.5 387.9,1668.0 390.5,1669.8 393.0,1668.5 395.6,1667.2 398.1,1667.8 400.7,1667.7 403.2,1668.2 405.6,1666.4 408.0,1666.4 410.4,1668.2 412.8,1667.4 415.2,1665.6 417.6,1665.8 420.0,1665.6 422.4,1666.1 424.8,1665.6 427.3,1665.9 429.7,1665.4 432.1,1664.2 434.5,1664.4 436.9,1663.9 439.4,1663.5 441.8,1662.4 444.2,1662.7 446.6,1662.1 449.0,1662.1 451.5,1659.7 453.9,1661.0 456.3,1658.4 458.7,1659.7 461.1,1658.7 463.6,1658.0 466.0,1658.6 468.4,1657.2 470.8,1656.3 473.2,1656.8 475.7,1656.6 478.1,1655.5 480.5,1654.5 482.9,1654.2 485.3,1653.7 487.8,1653.8 490.2,1652.2 492.6,1651.8 494.8,1651.5 497.0,1650.5 499.2,1649.6 501.4,1649.5 503.6,1648.2 505.8,1645.8 506.5,1644.9 507.2,1643.4 507.9,1641.8 508.6,1639.4 509.3,1636.8 509.9,1633.2 510.6,1628.7 510.8,1627.5 510.9,1625.0 511.0,1622.1 511.2,1618.6 511.3,1615.1 511.5,1611.4 511.6,1608.3 511.7,1605.8 511.9,1603.8 512.0,1602.7 512.2,1604.2 512.4,1606.1 512.6,1608.9 512.8,1612.0 513.0,1615.0 513.2,1617.7 513.4,1619.2 514.2,1623.0 514.9,1626.0 515.7,1628.0 516.5,1629.7 517.3,1631.4 518.9,1633.6 520.4,1636.7 521.9,1638.3 523.4,1639.7 525.0,1639.8 526.5,1640.6 528.9,1640.7 531.3,1641.0 533.8,1640.8 536.2,1641.3 538.6,1641.3 541.0,1639.8 543.4,1639.3 545.9,1639.3 548.3,1639.7 550.7,1637.6 553.1,1637.4 555.6,1637.4 558.0,1635.2 560.4,1634.8 562.9,1635.5 565.3,1634.4 567.4,1633.1 569.4,1631.5 571.5,1632.4 573.6,1631.2 575.7,1630.5 577.7,1629.8 579.8,1628.3 581.5,1626.1 583.2,1623.7 584.9,1621.7 586.7,1619.6 588.4,1617.4 590.1,1615.0 591.8,1613.7 593.6,1613.7 595.5,1613.3 596.7,1613.5 597.9,1616.2 599.1,1618.4 600.4,1620.7 601.6,1623.6 602.8,1626.1 604.0,1625.9 606.5,1626.9 608.9,1625.0 611.4,1625.7 613.8,1626.9 616.3,1626.0 618.7,1625.9 621.2,1624.3 623.6,1624.6 626.1,1624.1 626.4,1623.4 626.8,1623.2 627.1,1622.0 627.5,1621.0 627.8,1619.0 628.2,1616.9 628.5,1614.6 628.9,1612.1 629.2,1609.6 629.5,1606.4 629.9,1603.2 630.2,1599.9 630.6,1596.5 630.9,1593.0 631.3,1589.2 631.6,1585.4 631.8,1583.3 631.9,1580.6 632.0,1577.6 632.2,1574.1 632.3,1570.7 632.5,1567.4 632.6,1564.4 632.7,1562.0 632.9,1560.3 633.0,1560.6 633.2,1560.3 633.3,1561.4 633.5,1563.2 633.7,1565.5 633.9,1568.2 634.0,1571.4 634.2,1574.7 634.4,1578.2 634.6,1581.6 634.7,1585.0 634.9,1588.2 635.1,1591.1 635.3,1593.9 635.4,1596.0 635.6,1597.3 636.2,1601.4 636.8,1605.0 637.3,1608.0 637.9,1611.0 638.5,1613.8 639.1,1615.6 639.6,1617.7 640.2,1618.2 640.8,1619.0 643.2,1621.3 645.5,1621.7 647.9,1623.0 650.2,1625.0 652.6,1624.7 654.9,1625.9 657.3,1624.5 659.7,1624.3 662.1,1624.6 664.5,1623.9 667.0,1625.5 669.4,1623.4 671.8,1623.6 674.2,1622.0 676.6,1622.5 679.0,1621.6 681.5,1621.1 683.9,1619.8 686.3,1619.5 688.7,1620.6 691.2,1618.9 693.6,1618.0 696.1,1617.4 698.5,1617.4 700.9,1617.4 703.3,1617.2 705.7,1619.2 708.1,1618.8 710.6,1618.8 713.0,1620.5 715.4,1619.2 717.8,1619.8 719.9,1620.8 722.0,1618.5 724.1,1618.0 726.2,1617.3 728.4,1615.9 730.5,1613.5 732.6,1613.0 734.7,1613.6 737.1,1612.8 739.6,1614.6 742.0,1613.4 744.4,1615.8 746.9,1615.5 749.3,1615.6 751.7,1616.8 754.1,1616.6 756.6,1618.4 759.0,1617.3 761.5,1619.1 764.0,1618.2 766.5,1617.6 769.0,1617.3 771.5,1618.3 774.1,1617.2 776.6,1619.0 779.1,1616.9 781.6,1618.0 784.1,1618.1 786.6,1617.4 787.6,1617.7 788.7,1615.5 789.7,1613.2 790.7,1610.2 791.7,1606.9 792.8,1604.2 793.8,1601.7 795.0,1599.5 796.3,1599.5 797.5,1599.5 798.7,1602.6 800.0,1605.3 801.2,1608.4 802.4,1609.1 803.6,1609.0 804.8,1607.3 806.0,1605.0 807.2,1602.7 808.4,1599.9 809.6,1597.1 810.8,1595.2 811.8,1592.6 812.8,1590.1 813.8,1587.9 814.9,1585.5 815.9,1584.1 816.9,1583.9 818.4,1583.5 820.0,1586.2 821.5,1588.2 823.0,1590.5 824.5,1590.1 826.0,1588.6 827.5,1587.2 829.0,1585.5 829.2,1584.9 829.5,1583.7 829.7,1582.8 830.0,1581.0 830.2,1579.3 830.4,1577.1 830.7,1574.7 830.9,1572.4 831.2,1569.5 831.4,1566.5 831.6,1563.2 831.9,1559.8 832.1,1556.3 832.4,1552.7 832.6,1549.0 832.7,1547.6 832.8,1546.0 832.9,1544.4 832.9,1542.7 833.0,1540.8 833.1,1538.9 833.2,1536.7 833.3,1534.6 833.4,1532.2 833.4,1529.8 833.5,1527.4 833.6,1524.8 833.7,1522.1 833.8,1519.4 833.9,1516.6 833.9,1513.6 834.0,1510.7 834.1,1507.7 834.2,1504.6 834.3,1501.4 834.4,1498.2 834.4,1495.0 834.5,1491.8 834.6,1488.4 834.6,1486.5 834.7,1484.3 834.7,1482.1 834.8,1479.8 834.8,1477.4 834.9,1474.9 834.9,1472.3 835.0,1469.6 835.0,1466.9 835.1,1464.3 835.1,1461.5 835.2,1458.8 835.2,1456.0 835.3,1453.2 835.3,1450.5 835.4,1447.8 835.4,1445.1 835.5,1442.5 835.5,1440.0 835.5,1437.4 835.6,1434.8 835.6,1432.4 835.7,1429.8 835.8,1427.4 835.8,1425.0 835.9,1422.6 835.9,1420.3 836.0,1417.9 836.0,1415.6 836.0,1413.3 836.1,1410.9 836.1,1408.6 836.2,1406.2 836.2,1403.8 836.3,1401.4 836.4,1399.0 836.4,1396.5 836.5,1394.1 836.5,1391.5 836.5,1389.0 836.6,1386.4 836.6,1383.7 836.7,1381.0 836.8,1378.2 836.8,1375.3 836.9,1372.4 836.9,1369.3 837.0,1366.2 837.0,1363.0 837.0,1361.1 837.1,1359.2 837.1,1357.2 837.1,1355.2 837.1,1353.1 837.2,1351.0 837.2,1348.8 837.2,1346.6 837.3,1344.4 837.3,1342.1 837.3,1339.9 837.3,1337.5 837.4,1335.1 837.4,1332.8 837.4,1330.3 837.5,1327.9 837.5,1325.4 837.5,1322.9 837.5,1320.4 837.6,1317.8 837.6,1315.2 837.6,1312.6 837.7,1310.0 837.7,1307.4 837.7,1304.7 837.8,1302.0 837.8,1299.3 837.8,1296.6 837.8,1293.9 837.9,1291.2 837.9,1288.4 837.9,1285.7 838.0,1282.9 838.0,1280.1 838.0,1277.3 838.0,1274.5 838.1,1271.8 838.1,1268.9 838.1,1266.2 838.2,1263.3 838.2,1260.6 838.2,1257.7 838.2,1254.9 838.3,1252.2 838.3,1249.4 838.3,1246.6 838.4,1243.8 838.4,1241.0 838.4,1238.2 838.4,1235.5 838.5,1232.7 838.5,1230.0 838.5,1227.6 838.6,1225.1 838.6,1222.5 838.6,1219.9 838.6,1217.1 838.7,1214.4 838.7,1211.6 838.7,1208.7 838.7,1205.7 838.8,1202.8 838.8,1199.7 838.8,1196.6 838.8,1193.5 838.9,1190.4 838.9,1187.2 838.9,1183.9 838.9,1180.7 839.0,1177.4 839.0,1174.0 839.0,1170.7 839.0,1167.3 839.1,1163.9 839.1,1160.5 839.1,1157.1 839.1,1153.7 839.2,1150.2 839.2,1146.8 839.2,1143.3 839.2,1139.9 839.3,1136.5 839.3,1133.0 839.3,1129.6 839.3,1126.2 839.4,1122.8 839.4,1119.4 839.4,1116.0 839.4,1112.6 839.5,1109.3 839.5,1106.0 839.5,1102.7 839.5,1099.5 839.6,1096.3 839.6,1093.1 839.6,1090.0 839.6,1086.9 839.7,1083.8 839.7,1080.8 839.7,1077.9 839.7,1075.0 839.8,1072.2 839.8,1069.4 839.8,1066.7 839.8,1064.0 839.9,1061.4 839.9,1058.9 839.9,1056.4 839.9,1054.1 840.0,1051.8 840.0,1049.5 840.0,1047.4 840.0,1045.4 840.1,1043.4 840.1,1041.6 840.1,1039.8 840.1,1038.1 840.2,1036.5 840.2,1035.0 840.2,1033.6 840.2,1032.4 840.3,1031.1 840.3,1030.1 840.3,1029.2 840.3,1028.3 840.4,1027.6 840.4,1027.1 840.4,1026.6 840.4,1026.3 840.5,1025.8 840.5,1025.6 841.5,1026.3 841.5,1025.9 841.6,1026.2 841.6,1026.6 841.6,1027.1 841.7,1027.6 841.7,1028.4 841.7,1029.2 841.8,1030.2 841.8,1031.2 841.8,1032.4 841.8,1033.7 841.9,1035.1 841.9,1036.6 841.9,1038.2 842.0,1040.0 842.0,1041.7 842.0,1043.6 842.1,1045.6 842.1,1047.7 842.1,1049.8 842.2,1052.1 842.2,1054.4 842.2,1056.8 842.3,1059.3 842.3,1061.9 842.3,1064.5 842.4,1067.2 842.4,1069.9 842.4,1072.7 842.4,1075.6 842.5,1078.5 842.5,1081.5 842.5,1084.5 842.6,1087.6 842.6,1090.7 842.6,1093.9 842.7,1097.1 842.7,1100.3 842.7,1103.6 842.8,1106.8 842.8,1110.1 842.8,1113.5 842.9,1116.9 842.9,1120.3 842.9,1123.7 843.0,1127.1 843.0,1130.5 843.0,1134.0 843.1,1137.4 843.1,1140.9 843.1,1144.3 843.1,1147.8 843.2,1151.2 843.2,1154.7 843.2,1158.1 843.3,1161.5 843.3,1164.9 843.3,1168.3 843.4,1171.6 843.4,1175.0 843.4,1178.3 843.5,1181.5 843.5,1184.8 843.5,1188.0 843.6,1191.1 843.6,1194.3 843.6,1197.4 843.7,1200.4 843.7,1203.4 843.7,1206.3 843.7,1209.2 843.8,1212.0 843.8,1214.8 843.8,1217.5 843.9,1220.2 843.9,1222.7 843.9,1225.2 844.0,1227.6 844.0,1230.0 844.0,1232.8 844.1,1235.6 844.1,1238.4 844.2,1241.1 844.2,1243.8 844.2,1246.5 844.3,1249.3 844.3,1252.0 844.3,1254.6 844.4,1257.3 844.4,1259.9 844.5,1262.6 844.5,1265.2 844.5,1267.8 844.6,1270.4 844.6,1273.0 844.7,1275.6 844.7,1278.2 844.7,1280.7 844.8,1283.3 844.8,1285.8 844.8,1288.4 844.9,1290.9 844.9,1293.4 845.0,1295.9 845.0,1298.4 845.0,1300.9 845.1,1303.5 845.1,1306.0 845.2,1308.5 845.2,1310.9 845.2,1313.4 845.3,1315.9 845.3,1318.4 845.3,1320.8 845.4,1323.3 845.4,1325.8 845.5,1328.3 845.5,1330.7 845.5,1333.2 845.6,1335.7 845.6,1338.1 845.7,1340.6 845.7,1343.1 845.7,1345.6 845.8,1348.0 845.8,1350.5 845.8,1353.0 845.9,1355.5 845.9,1358.0 846.0,1360.5 846.0,1363.0 846.0,1365.6 846.1,1368.0 846.1,1370.5 846.2,1372.8 846.2,1375.1 846.2,1377.4 846.3,1379.7 846.3,1381.8 846.4,1384.0 846.4,1386.2 846.4,1388.4 846.5,1390.5 846.5,1392.7 846.6,1394.9 846.6,1397.2 846.6,1399.5 846.7,1401.8 846.7,1404.2 846.8,1406.6 846.8,1409.1 846.8,1411.7 846.9,1414.4 846.9,1417.2 847.0,1420.1 847.0,1423.1 847.0,1426.2 847.1,1429.4 847.1,1432.8 847.2,1436.3 847.2,1440.0 847.2,1441.8 847.2,1443.8 847.3,1446.1 847.3,1448.5 847.3,1451.1 847.3,1453.9 847.3,1456.8 847.3,1459.8 847.4,1462.9 847.4,1466.0 847.4,1469.3 847.4,1472.5 847.4,1475.8 847.5,1479.0 847.5,1482.3 847.5,1485.4 847.5,1488.6 847.5,1491.6 847.5,1494.5 847.6,1497.3 847.6,1499.9 847.6,1502.4 847.6,1504.7 847.6,1506.8 847.6,1508.6 847.7,1510.2 847.7,1511.5 847.7,1512.6 847.8,1517.4 847.9,1521.9 848.0,1526.0 848.1,1529.9 848.2,1533.3 848.3,1536.6 848.4,1539.5 848.5,1542.1 848.6,1544.6 848.7,1546.9 848.8,1549.1 848.9,1550.9 849.0,1552.7 849.1,1554.3 849.2,1555.9 849.3,1557.1 849.4,1558.5 849.5,1559.9 849.6,1560.9 849.9,1564.8 850.3,1568.4 850.6,1571.8 850.9,1574.9 851.2,1577.9 851.6,1580.2 851.9,1582.5 852.2,1584.2 852.5,1586.0 852.9,1587.3 853.2,1587.9 854.7,1588.9 856.2,1590.8 857.8,1592.0 859.3,1592.6 860.2,1593.6 861.0,1596.7 861.9,1599.5 862.7,1601.9 863.6,1604.2 864.4,1605.9 865.3,1607.1 867.3,1608.1 869.4,1607.4 871.4,1608.1 871.9,1606.2 872.4,1605.2 872.9,1603.7 873.5,1601.2 874.0,1598.2 874.5,1595.3 875.0,1591.8 875.5,1588.4 876.0,1585.3 876.3,1582.9 876.6,1580.3 876.9,1577.4 877.1,1575.3 877.4,1574.6 877.6,1575.0 877.8,1576.9 878.0,1579.4 878.2,1582.5 878.4,1585.5 878.6,1588.2 878.8,1589.8 879.3,1593.7 879.8,1597.2 880.3,1600.2 880.8,1603.0 881.3,1605.6 881.8,1607.8 882.3,1610.1 882.8,1610.8 883.3,1612.5 885.4,1613.7 887.4,1615.2 889.5,1616.4 891.5,1617.0 893.6,1617.9 895.6,1618.2 898.0,1618.2 900.4,1619.7 902.8,1619.1 905.2,1620.6 907.6,1621.0 910.0,1621.2 912.4,1619.6 914.9,1619.7 917.3,1619.1 919.8,1617.1 922.2,1616.2 924.6,1617.0 927.1,1618.4 929.5,1617.1 931.9,1617.5 934.3,1619.2 936.8,1620.2 939.2,1620.9 941.6,1620.0 944.0,1621.7 946.5,1619.5 948.9,1620.7 951.3,1618.7 953.7,1618.3 956.1,1618.4 958.6,1618.1 961.0,1619.2 963.4,1619.6 965.9,1619.5 968.3,1622.0 970.7,1621.8 973.1,1622.3 975.6,1623.0 978.0,1624.7 980.4,1625.1 982.8,1622.9 985.2,1622.3 987.6,1623.9 990.0,1622.2 992.1,1622.7 994.2,1620.2 996.4,1618.9 998.5,1617.6 1000.7,1619.0 1002.9,1618.7 1005.1,1619.3 1007.4,1621.4 1009.6,1620.7 1011.8,1622.8 1014.0,1621.7 1016.5,1623.5 1018.9,1623.2 1021.4,1624.7 1023.8,1622.8 1026.3,1624.2 1028.7,1623.7 1031.1,1624.8 1033.6,1624.6 1036.0,1623.5 1038.4,1622.1 1040.8,1621.8 1043.2,1621.5 1045.7,1621.7 1048.1,1620.9 1050.5,1620.8 1052.9,1622.6 1055.2,1623.3 1057.6,1623.6 1060.0,1625.9 1062.1,1623.6 1064.2,1624.0 1066.3,1622.5 1068.5,1623.1 1070.6,1622.1 1072.7,1619.8 1074.8,1619.7 1076.7,1618.7 1078.6,1616.4 1080.5,1615.0 1082.4,1613.6 1084.3,1612.6 1085.5,1610.1 1086.8,1609.3 1088.0,1608.6 1089.1,1609.3 1090.2,1611.9 1091.3,1615.3 1092.4,1617.4 1093.5,1619.9 1095.6,1620.0 1097.7,1621.8 1099.7,1622.7 1101.8,1621.6 1103.9,1623.6 1106.0,1624.2 1108.5,1622.2 1111.0,1621.3 1113.4,1621.3 1115.9,1623.2 1118.4,1620.4 1120.5,1621.7 1122.5,1618.9 1124.6,1618.3 1126.7,1615.5 1128.8,1614.0 1130.8,1613.8 1132.9,1611.9 1135.3,1612.6 1137.7,1614.2 1140.2,1613.6 1142.6,1614.1 1145.0,1614.3 1147.4,1611.7 1149.8,1612.3 1152.1,1613.8 1154.5,1613.5 1155.9,1611.7 1157.2,1611.6 1158.6,1609.6 1160.0,1607.7 1161.3,1604.7 1162.7,1601.7 1163.1,1601.5 1163.5,1599.6 1163.9,1598.3 1164.4,1595.9 1164.8,1594.0 1165.2,1591.4 1165.6,1588.9 1166.0,1586.0 1166.4,1583.2 1166.9,1579.8 1167.3,1576.7 1167.7,1573.2 1167.9,1571.5 1168.1,1569.7 1168.2,1567.8 1168.4,1565.7 1168.6,1563.3 1168.8,1560.8 1169.0,1558.5 1169.1,1555.9 1169.3,1553.2 1169.5,1550.4 1169.7,1547.6 1169.9,1544.9 1170.0,1542.1 1170.2,1539.4 1170.4,1536.9 1170.6,1534.3 1170.7,1531.2 1170.9,1527.9 1171.0,1524.8 1171.2,1522.4 1171.3,1520.6 1171.5,1519.9 1171.6,1520.4 1171.7,1521.6 1171.8,1523.6 1171.9,1526.0 1172.1,1528.8 1172.2,1531.9 1172.3,1535.1 1172.4,1538.4 1172.5,1541.6 1172.6,1544.4 1172.7,1547.0 1172.8,1549.0 1173.1,1552.5 1173.3,1556.1 1173.5,1559.3 1173.8,1562.8 1174.0,1566.0 1174.2,1568.9 1174.4,1572.0 1174.7,1574.7 1174.9,1577.3 1175.1,1579.7 1175.4,1581.9 1175.6,1584.2 1175.8,1586.0 1176.1,1587.7 1176.3,1588.6 1176.5,1590.1 1177.4,1593.5 1178.4,1596.9 1179.3,1599.5 1180.2,1601.6 1181.1,1604.3 1182.0,1604.9 1183.0,1607.3 1183.9,1608.7 1184.8,1609.5 1186.4,1611.7 1188.0,1614.3 1189.7,1614.9 1191.3,1617.0 1192.9,1618.2 1194.5,1617.7 1195.5,1618.1 1196.5,1616.6 1197.5,1615.2 1198.6,1613.3 1199.6,1610.8 1200.6,1607.6 1201.6,1604.7 1201.9,1602.9 1202.3,1600.0 1202.6,1596.9 1203.0,1593.4 1203.3,1590.8 1203.7,1588.5 1204.0,1588.2 1204.4,1588.5 1204.8,1590.6 1205.2,1593.5 1205.5,1596.9 1205.9,1600.4 1206.3,1603.0 1206.7,1604.6 1207.9,1607.4 1209.1,1610.1 1210.2,1611.1 1211.4,1612.0 1212.6,1613.9 1215.0,1612.9 1217.4,1613.3 1219.9,1613.6 1222.3,1613.6 1224.7,1613.4 1227.2,1611.0 1229.6,1611.7 1232.0,1612.8 1234.4,1612.6 1236.9,1610.5 1239.3,1610.4 1241.7,1610.4 1244.1,1609.8 1246.6,1610.4 1249.0,1611.5 1250.6,1611.2 1252.2,1612.4 1253.8,1613.6 1255.4,1615.9 1257.0,1618.6 1258.6,1619.6 1260.5,1620.4 1262.5,1621.7 1264.4,1623.5 1266.4,1624.3 1268.3,1623.0 1270.7,1624.4 1273.2,1623.3 1275.6,1623.4 1278.0,1622.3 1280.4,1622.2 1282.9,1621.6 1285.3,1621.3 1287.7,1620.0 1290.1,1620.2 1292.4,1620.9 1294.8,1619.3 1297.2,1619.3 1299.6,1620.1 1301.9,1618.4 1304.3,1617.6 1305.1,1616.7 1306.0,1615.2 1306.8,1612.0 1307.6,1609.5 1308.5,1607.0 1309.3,1604.3 1310.0,1603.0 1310.7,1602.9 1311.4,1603.4 1312.0,1605.8 1312.7,1608.7 1313.4,1611.6 1314.1,1612.7 1316.5,1614.5 1319.0,1614.2 1321.5,1614.9 1323.9,1615.8 1326.4,1616.4 1328.4,1614.6 1330.4,1613.1 1332.5,1611.4 1334.5,1609.9 1336.5,1607.0 1338.5,1608.3 1340.4,1607.7 1342.4,1607.6 1344.3,1609.1 1346.3,1609.4 1348.2,1609.8 1350.1,1612.2 1352.1,1612.6 1354.0,1614.0 1356.0,1614.9 1357.9,1616.5 1360.3,1616.5 1362.7,1615.0 1365.2,1616.7 1367.6,1616.5 1370.0,1616.7 1372.4,1617.7 1374.8,1616.3 1377.2,1615.8 1379.7,1615.7 1382.1,1613.6 1384.5,1612.6 1387.0,1611.7 1389.4,1611.7 1391.8,1611.2 1394.2,1611.4 1396.7,1610.7 1399.1,1610.0 1401.5,1611.9 1403.9,1611.8 1406.4,1612.6 1408.8,1612.6 1409.8,1610.8 1410.9,1609.8 1411.9,1607.7 1412.9,1606.0 1414.0,1602.7 1415.0,1599.9 1416.1,1597.7 1417.1,1595.1 1418.0,1592.2 1418.8,1590.2 1419.7,1589.4 1420.4,1589.8 1421.1,1591.7 1421.8,1595.2 1422.4,1598.4 1423.1,1601.5 1423.8,1604.2 1424.5,1605.5 1426.2,1604.7 1427.9,1601.9 1429.6,1599.9 1431.3,1597.4 1431.9,1595.4 1432.6,1593.8 1433.2,1590.4 1433.9,1587.3 1434.5,1584.2 1435.1,1581.4 1435.8,1579.7 1436.4,1578.1 1437.8,1576.8 1438.2,1577.4 1438.5,1579.1 1438.9,1581.8 1439.3,1585.0 1439.7,1588.0 1440.0,1590.7 1440.4,1592.3 1441.3,1595.7 1442.1,1598.8 1443.0,1602.0 1443.9,1604.4 1444.8,1606.6 1445.6,1608.3 1446.5,1609.6 1448.6,1611.2 1450.7,1613.5 1452.7,1613.3 1454.8,1615.5 1457.2,1614.4 1459.6,1612.9 1462.1,1613.2 1464.5,1613.3 1466.9,1612.5 1469.3,1612.3 1471.7,1611.1 1474.2,1610.3 1476.6,1610.9 1479.0,1609.0 1481.1,1609.4 1483.2,1609.0 1485.3,1607.9 1487.5,1606.8 1489.6,1606.9 1491.7,1604.9 1493.8,1604.4 1495.9,1601.4 1496.9,1601.2 1497.9,1600.3 1498.8,1598.1 1499.8,1597.2 1500.8,1594.2 1501.8,1592.1 1502.8,1588.6 1503.7,1585.6 1504.0,1584.3 1504.2,1583.2 1504.4,1581.5 1504.6,1579.8 1504.8,1577.9 1505.1,1575.6 1505.3,1573.2 1505.5,1570.9 1505.7,1568.0 1505.9,1565.4 1506.2,1562.3 1506.4,1559.3 1506.6,1556.2 1506.8,1553.2 1507.0,1550.0 1507.2,1546.6 1507.5,1543.4 1507.7,1540.1 1507.9,1537.0 1508.0,1534.9 1508.2,1532.6 1508.3,1530.2 1508.4,1527.8 1508.6,1525.2 1508.7,1522.6 1508.8,1519.9 1508.9,1517.1 1509.1,1514.5 1509.2,1511.8 1509.3,1509.3 1509.5,1506.8 1509.6,1504.7 1509.7,1502.4 1509.9,1500.6 1510.0,1497.6 1510.2,1494.7 1510.4,1492.0 1510.6,1489.4 1510.8,1487.6 1511.0,1487.1 1511.1,1487.6 1511.2,1488.5 1511.3,1490.2 1511.4,1492.2 1511.5,1494.8 1511.6,1497.6 1511.7,1500.7 1511.8,1504.0 1511.9,1507.3 1512.0,1510.7 1512.1,1513.9 1512.2,1517.1 1512.3,1520.0 1512.4,1522.6 1512.5,1524.7 1512.7,1527.9 1512.8,1531.2 1513.0,1534.5 1513.2,1537.7 1513.3,1541.0 1513.5,1543.9 1513.7,1547.1 1513.9,1550.1 1514.0,1552.9 1514.2,1555.6 1514.4,1558.2 1514.5,1560.7 1514.7,1563.0 1514.9,1565.3 1515.0,1567.3 1515.2,1569.0 1515.4,1570.8 1515.5,1571.9 1515.7,1573.2 1516.4,1577.5 1517.1,1580.8 1517.8,1584.4 1518.5,1587.1 1519.2,1589.1 1519.8,1591.5 1520.5,1593.4 1521.2,1594.8 1521.9,1596.6 1522.6,1597.0 1524.4,1600.1 1526.2,1601.3 1528.0,1602.1 1529.8,1603.6 1531.5,1602.2 1533.3,1602.3 1535.1,1601.0 1536.9,1598.3 1538.7,1595.9 1540.5,1593.7 1541.9,1595.6 1543.3,1596.6 1544.7,1599.4 1546.0,1601.2 1547.4,1604.0 1548.8,1605.6 1550.2,1606.7 1552.6,1608.5 1555.1,1608.4 1557.5,1609.2 1559.9,1611.6 1562.3,1610.9 1564.8,1612.6 1567.2,1613.2 1569.6,1612.7 1572.0,1612.4 1574.5,1612.8 1576.9,1615.2 1579.3,1614.0 1581.7,1615.5 1584.1,1616.3 1586.5,1615.9 1589.0,1617.4 1591.4,1617.2 1593.8,1618.6 1596.2,1618.9 1598.6,1618.8 1601.0,1618.4 1603.4,1618.9 1605.9,1618.4 1608.3,1618.2 1610.7,1618.5 1613.1,1620.2 1615.6,1619.2 1618.0,1620.2 1619.1,1617.4 1620.2,1615.3 1621.3,1612.0 1622.4,1611.5 1623.5,1611.9 1624.5,1614.5 1625.6,1617.3 1626.6,1620.5 1627.7,1620.8 1630.1,1621.8 1632.5,1621.9 1635.0,1623.2 1637.4,1623.8 1639.8,1623.4 1642.2,1625.1 1644.2,1622.7 1646.2,1622.6 1648.2,1620.5 1650.3,1619.7 1652.3,1619.0 1654.3,1618.6 1656.7,1617.2 1659.2,1618.4 1661.6,1620.0 1664.0,1621.7 1666.5,1620.2 1668.9,1621.9 1671.4,1622.1 1673.9,1622.3 1676.4,1620.9 1678.9,1621.8 1681.4,1620.5 1683.9,1621.2 1686.4,1618.4 1689.0,1619.8 1691.5,1617.8 1692.2,1617.3 1692.8,1615.9 1693.5,1614.6 1694.2,1613.0 1694.9,1610.5 1695.6,1607.3 1696.3,1604.3 1697.0,1600.8 1697.7,1597.3 1697.9,1595.1 1698.2,1592.1 1698.5,1589.0 1698.7,1586.5 1699.0,1586.0 1699.3,1585.9 1699.7,1587.7 1700.0,1590.4 1700.3,1593.5 1700.7,1596.7 1701.0,1599.8 1701.4,1602.4 1701.7,1604.7 1702.4,1608.3 1703.2,1611.7 1703.9,1614.6 1704.7,1617.9 1705.4,1620.2 1706.1,1621.9 1706.9,1624.2 1707.6,1624.5 1710.0,1624.4 1712.5,1622.5 1714.9,1623.6 1716.8,1622.8 1718.8,1621.5 1720.7,1619.9 1722.7,1619.1 1724.6,1618.8 1726.4,1619.2 1728.2,1621.2 1730.0,1624.2 1731.8,1625.8 1734.2,1626.7 1736.6,1625.9 1739.0,1627.9 1741.5,1627.2 1743.9,1628.5 1746.3,1626.6 1748.7,1629.1 1751.2,1628.8 1753.6,1627.6 1756.0,1629.4 1758.4,1627.9 1760.8,1628.0 1763.3,1628.8 1765.7,1628.2 1768.1,1628.7 1770.6,1629.1 1773.0,1627.9 1775.4,1627.1 1777.8,1625.7 1780.3,1626.1 1782.7,1626.0 1785.1,1625.7 1787.5,1626.4 1790.0,1626.1 1792.4,1624.9 1794.8,1624.0 1797.2,1625.6 1799.6,1626.1 1802.1,1624.8 1804.5,1625.5 1806.9,1626.1 1809.3,1625.9 1811.7,1623.6 1814.1,1624.5 1816.5,1622.9 1819.0,1622.7 1821.4,1623.7 1823.8,1622.2 1826.2,1621.9 1828.6,1620.9 1831.0,1620.0 1833.4,1619.1 1835.9,1618.7 1838.3,1619.1 1840.7,1617.7 1843.1,1616.1 1845.6,1614.7 1848.0,1613.8 1849.7,1613.4 1851.3,1611.3 1853.0,1609.7 1854.7,1607.8 1856.4,1604.8 1858.1,1604.1 1859.7,1601.7 1861.4,1603.1 1863.4,1601.9 1865.5,1603.1 1867.5,1605.5 1869.5,1605.6 1871.5,1607.0 1873.5,1609.9 1875.5,1611.3 1877.5,1613.5 1879.5,1614.1 1881.5,1615.6 1883.6,1617.8 1885.6,1618.2 1887.6,1620.4 1889.6,1619.8 1891.7,1621.9 1893.7,1620.7 1896.1,1622.0 1898.5,1620.9 1901.0,1621.6 1903.4,1623.9 1905.8,1622.8 1908.2,1623.9 1910.6,1622.7 1913.1,1623.1 1915.5,1622.5 1917.9,1623.9 1920.3,1624.8 1922.7,1623.9 1925.2,1623.6 1927.6,1625.2 1930.0,1625.1 1932.6,1624.4 1935.2,1622.7 1937.8,1624.1 1940.4,1623.4 1943.0,1624.6 1945.6,1622.8 1948.2,1623.3 1950.7,1623.0 1953.3,1622.1 1955.9,1622.3 1958.5,1622.5 1961.1,1622.9 1963.7,1621.7 1966.3,1621.2 1968.7,1622.8 1971.2,1620.3 1973.6,1622.3 1976.0,1621.9 1978.4,1621.5 1980.9,1621.1 1983.3,1621.9 1985.7,1622.2 1988.1,1621.8 1990.6,1621.8 1993.0,1619.8 1995.4,1620.5 1997.8,1620.0 2000.3,1622.3 2002.7,1622.1 2005.3,1620.0 2007.9,1621.2 2010.5,1621.2 2013.1,1619.7 2015.7,1620.7 2018.3,1621.7 2020.8,1621.4 2023.4,1620.4 2026.0,1621.7 2028.6,1620.4 2031.2,1621.1 2033.8,1620.8 2036.4,1622.3 2039.0,1621.4 2041.1,1621.5 2043.2,1620.4 2045.4,1618.5 2047.5,1617.4 2047.8,1616.2 2048.1,1614.7 2048.5,1612.4 2048.8,1609.8 2049.1,1607.0 2049.4,1604.0 2049.7,1600.8 2050.0,1597.6 2050.4,1594.6 2050.7,1592.1 2051.0,1590.2 2051.5,1587.1 2052.0,1585.0 2052.5,1582.4 2053.0,1580.3 2053.5,1577.9 2054.0,1575.9 2054.5,1574.0" fill="none" stroke="#000" stroke-width="9.7" stroke-linejoin="round" stroke-linecap="butt"/>
<path d="M58.0,2513.2 60.3,2513.2 62.6,2514.9 64.9,2515.1 67.2,2513.2 69.4,2513.7 71.7,2515.5 74.0,2513.5 76.3,2513.9 78.7,2514.2 81.1,2513.2 83.5,2513.5 85.9,2513.6 88.4,2513.4 90.8,2514.7 93.2,2512.7 95.6,2512.4 98.0,2514.3 100.4,2513.2 102.9,2514.5 105.3,2514.6 107.7,2515.5 110.2,2515.2 112.6,2515.5 115.0,2517.6 117.4,2517.4 119.9,2518.0 122.3,2518.5 124.7,2518.6 127.1,2517.2 129.6,2517.2 132.0,2518.2 134.4,2516.8 136.8,2515.8 139.2,2516.2 141.7,2514.8 144.1,2515.5 146.5,2513.3 148.9,2514.7 151.4,2513.6 153.8,2512.6 156.2,2513.4 158.7,2511.2 161.1,2510.5 163.6,2509.4 166.0,2509.6 168.1,2509.3 170.1,2508.2 172.2,2506.7 174.2,2506.3 176.3,2503.7 178.3,2502.5 180.4,2501.2 181.4,2500.6 182.5,2498.9 183.5,2497.4 184.6,2495.6 185.6,2492.9 186.7,2490.4 187.7,2486.7 187.9,2485.5 188.1,2484.3 188.3,2482.9 188.5,2480.9 188.7,2478.8 188.9,2476.7 189.1,2474.2 189.4,2471.5 189.6,2468.7 189.8,2465.7 190.0,2462.4 190.2,2459.3 190.4,2455.9 190.6,2452.6 190.7,2450.8 190.8,2448.9 190.9,2446.8 191.0,2444.5 191.1,2442.0 191.2,2439.5 191.3,2436.7 191.4,2434.1 191.5,2431.2 191.6,2428.4 191.7,2425.5 191.8,2422.6 191.9,2419.8 192.0,2417.0 192.1,2414.3 192.2,2411.6 192.3,2409.0 192.4,2406.6 192.5,2404.2 192.6,2401.7 192.7,2399.2 192.9,2397.1 193.0,2395.0 193.1,2392.8 193.2,2390.6 193.3,2388.2 193.5,2385.8 193.6,2383.1 193.7,2380.0 193.8,2378.3 193.8,2376.5 193.9,2374.5 193.9,2372.4 194.0,2370.2 194.0,2367.8 194.1,2365.3 194.2,2362.8 194.2,2360.0 194.3,2357.3 194.3,2354.5 194.4,2351.6 194.5,2348.7 194.5,2345.7 194.6,2342.7 194.6,2339.7 194.7,2336.7 194.7,2333.7 194.8,2330.7 194.9,2327.7 194.9,2324.9 195.0,2321.9 195.0,2319.1 195.1,2316.4 195.2,2313.7 195.2,2311.1 195.3,2308.7 195.3,2306.3 195.4,2304.1 195.4,2301.9 195.5,2300.0 195.6,2297.0 195.7,2293.8 195.8,2290.6 195.8,2287.7 195.9,2284.9 196.0,2282.9 196.1,2281.5 196.2,2280.6 196.3,2281.5 196.4,2282.8 196.5,2284.8 196.6,2287.4 196.7,2290.4 196.8,2293.6 196.9,2296.8 197.0,2300.0 197.1,2301.7 197.1,2303.5 197.2,2305.4 197.2,2307.3 197.3,2309.5 197.3,2311.6 197.4,2313.9 197.4,2316.3 197.5,2318.8 197.5,2321.3 197.6,2323.9 197.6,2326.5 197.7,2329.2 197.7,2331.9 197.8,2334.7 197.8,2337.6 197.9,2340.4 197.9,2343.3 198.0,2346.2 198.0,2349.1 198.1,2352.0 198.1,2354.9 198.2,2357.8 198.2,2360.7 198.3,2363.6 198.3,2366.4 198.4,2369.2 198.4,2372.0 198.5,2374.7 198.5,2377.4 198.6,2380.0 198.7,2382.6 198.7,2385.2 198.8,2387.9 198.8,2390.7 198.8,2393.7 198.9,2396.5 198.9,2399.5 199.0,2402.4 199.1,2405.3 199.1,2408.3 199.2,2411.2 199.2,2414.1 199.2,2416.9 199.3,2419.6 199.3,2422.3 199.4,2424.9 199.5,2427.4 199.5,2429.7 199.6,2431.9 199.6,2433.9 199.7,2435.8 199.7,2437.6 199.8,2439.2 199.8,2440.5 200.0,2444.4 200.1,2448.0 200.3,2451.4 200.4,2454.6 200.6,2457.6 200.8,2460.2 200.9,2462.8 201.1,2465.3 201.2,2467.5 201.4,2469.4 201.6,2471.2 201.7,2472.8 201.9,2474.6 202.0,2475.8 202.2,2477.1 202.8,2481.0 203.4,2484.0 204.0,2487.1 204.6,2489.4 205.2,2491.9 205.8,2493.8 206.4,2494.6 207.0,2495.7 208.5,2498.5 210.1,2501.3 211.6,2503.1 213.1,2504.2 214.6,2507.0 216.1,2508.2 217.7,2508.6 219.2,2508.6 221.6,2511.4 224.0,2511.7 226.5,2511.7 228.9,2513.1 231.3,2514.5 233.7,2515.7 236.2,2515.2 238.6,2515.9 241.0,2514.8 243.4,2514.8 245.8,2516.3 248.3,2514.6 250.7,2513.5 253.1,2514.0 255.5,2512.3 258.0,2511.7 260.4,2511.5 262.8,2511.0 264.7,2510.3 266.6,2509.5 268.4,2507.9 270.3,2505.9 272.2,2505.7 274.1,2503.0 275.9,2502.1 277.8,2500.2 279.7,2498.9 281.0,2497.6 282.4,2495.4 283.7,2494.5 285.1,2492.9 286.4,2490.8 287.8,2488.4 289.1,2487.2 290.5,2484.4 291.8,2481.2 292.5,2479.9 293.2,2478.9 293.9,2476.3 294.6,2474.3 295.3,2472.3 296.1,2469.9 296.8,2467.2 297.5,2464.6 298.2,2461.3 298.9,2458.5 299.6,2456.0 300.3,2452.8 300.7,2450.5 301.1,2448.5 301.5,2446.6 301.9,2444.7 302.3,2442.1 302.7,2439.9 303.1,2437.6 303.5,2434.9 303.9,2432.5 304.3,2429.6 304.7,2426.9 305.1,2424.1 305.5,2421.8 305.9,2418.8 306.3,2416.5 306.6,2414.2 307.0,2411.7 307.3,2409.7 307.6,2407.1 307.9,2404.9 308.3,2402.3 308.6,2400.2 308.9,2397.8 309.2,2395.3 309.6,2392.5 309.9,2390.3 310.2,2387.7 310.5,2385.2 310.9,2382.6 311.2,2380.0 311.5,2377.7 311.8,2375.5 312.1,2372.9 312.4,2370.6 312.7,2368.5 313.0,2366.2 313.3,2363.9 313.6,2361.4 313.9,2359.2 314.2,2356.5 314.5,2354.3 314.8,2351.6 315.1,2348.8 315.4,2345.9 315.7,2343.1 316.0,2339.9 316.2,2338.0 316.4,2335.8 316.6,2333.9 316.8,2331.6 316.9,2329.3 317.1,2326.9 317.3,2324.6 317.5,2322.2 317.7,2319.7 317.9,2316.9 318.1,2314.3 318.2,2311.5 318.4,2308.8 318.6,2305.8 318.8,2303.0 319.0,2300.1 319.1,2298.0 319.2,2295.7 319.4,2293.5 319.5,2291.2 319.6,2288.9 319.8,2286.4 319.9,2283.9 320.0,2281.3 320.1,2278.7 320.2,2276.1 320.4,2273.5 320.5,2270.9 320.6,2268.2 320.8,2265.5 320.9,2262.9 321.0,2260.2 321.1,2257.6 321.2,2254.9 321.4,2252.5 321.5,2250.1 321.6,2247.4 321.8,2244.5 321.9,2241.3 322.0,2238.2 322.1,2234.9 322.2,2231.8 322.4,2228.9 322.5,2226.3 322.6,2224.1 322.8,2222.4 322.9,2221.2 323.0,2220.8 324.0,2221.4 324.1,2221.4 324.2,2222.5 324.2,2224.1 324.3,2226.3 324.4,2228.8 324.5,2231.7 324.6,2234.7 324.7,2237.9 324.8,2241.1 324.8,2244.2 324.9,2247.2 325.0,2250.0 325.1,2252.4 325.1,2254.7 325.2,2257.2 325.3,2259.7 325.4,2262.3 325.4,2264.8 325.5,2267.4 325.6,2270.0 325.7,2272.6 325.8,2275.2 325.8,2277.9 325.9,2280.4 326.0,2283.0 326.1,2285.6 326.1,2288.1 326.2,2290.6 326.3,2293.0 326.4,2295.4 326.4,2297.8 326.5,2300.0 326.6,2302.8 326.7,2305.4 326.8,2308.0 326.9,2310.4 327.0,2312.9 327.1,2315.4 327.2,2317.9 327.2,2320.1 327.3,2322.5 327.4,2325.0 327.5,2327.4 327.6,2329.8 327.7,2332.3 327.8,2334.8 327.9,2337.4 328.0,2340.0 328.1,2342.4 328.2,2344.9 328.2,2347.5 328.3,2350.2 328.4,2353.1 328.5,2355.8 328.6,2358.6 328.6,2361.5 328.7,2364.2 328.8,2366.9 328.9,2369.5 329.0,2371.9 329.1,2374.2 329.1,2376.3 329.2,2378.2 329.3,2379.9 329.5,2383.6 329.7,2387.2 329.9,2390.5 330.1,2393.7 330.3,2396.7 330.5,2399.7 330.7,2402.4 330.9,2404.8 331.1,2407.4 331.2,2409.7 331.4,2411.9 331.6,2414.2 331.8,2416.3 332.0,2418.5 332.2,2420.4 332.4,2422.5 332.6,2424.3 332.8,2426.6 333.0,2428.4 333.3,2431.7 333.6,2434.7 333.9,2438.1 334.3,2441.0 334.6,2444.3 334.9,2447.3 335.2,2450.2 335.5,2452.9 335.8,2455.6 336.2,2458.4 336.5,2461.2 336.8,2463.4 337.1,2466.0 337.4,2468.2 337.7,2470.3 338.1,2472.0 338.4,2473.7 338.7,2475.2 339.0,2477.2 339.9,2480.5 340.8,2484.1 341.8,2487.1 342.7,2489.7 343.6,2492.1 344.5,2494.4 345.4,2497.4 346.3,2498.7 347.2,2501.5 348.2,2502.6 349.1,2504.6 350.0,2505.5 351.6,2508.9 353.2,2510.6 354.8,2513.1 356.4,2515.4 358.1,2516.7 359.7,2518.6 361.3,2521.0 362.9,2521.5 364.5,2522.7 366.9,2524.7 369.3,2524.8 371.7,2525.8 374.1,2526.7 376.6,2527.9 379.0,2528.5 381.4,2529.8 383.8,2529.9 386.2,2531.4 388.7,2529.9 391.1,2531.9 393.5,2532.8 395.9,2531.7 398.4,2531.6 400.8,2533.0 403.2,2532.4 405.6,2533.5 408.1,2534.3 410.5,2532.7 412.9,2532.7 415.2,2533.1 417.6,2531.9 420.0,2531.7 422.4,2532.1 424.8,2531.1 427.3,2530.8 429.7,2531.5 432.1,2531.7 434.5,2532.9 436.9,2531.7 439.4,2530.3 441.8,2530.6 444.2,2531.8 446.6,2531.2 449.0,2531.8 451.5,2531.9 453.9,2531.4 456.3,2529.2 458.7,2531.1 461.1,2529.8 463.6,2528.8 466.0,2528.3 468.4,2529.7 470.8,2527.7 473.2,2527.0 475.7,2527.0 478.1,2528.1 480.5,2526.5 482.9,2526.5 485.4,2524.4 487.8,2524.6 490.2,2523.6 492.3,2522.7 494.3,2523.1 496.4,2521.8 498.5,2520.5 500.6,2521.3 502.6,2519.2 504.7,2517.3 505.9,2516.1 507.1,2515.6 508.4,2513.6 509.6,2510.8 510.8,2508.7 512.0,2506.0 512.5,2504.4 513.0,2502.5 513.5,2500.7 514.0,2498.5 514.5,2496.0 515.0,2492.9 515.5,2490.1 515.8,2488.5 516.0,2486.4 516.2,2484.3 516.5,2481.7 516.8,2479.3 517.0,2476.2 517.2,2473.2 517.5,2470.0 517.6,2468.3 517.8,2466.2 517.9,2464.2 518.0,2461.9 518.1,2459.6 518.2,2457.1 518.4,2454.5 518.5,2451.9 518.6,2449.0 518.8,2446.2 518.9,2443.1 519.0,2440.0 519.1,2438.0 519.2,2435.9 519.2,2433.6 519.3,2431.3 519.4,2428.9 519.5,2426.4 519.5,2423.8 519.6,2421.2 519.7,2418.4 519.8,2415.7 519.8,2413.0 519.9,2410.2 520.0,2407.6 520.1,2404.8 520.1,2402.1 520.2,2399.6 520.3,2397.0 520.4,2394.2 520.5,2391.0 520.5,2387.6 520.6,2384.2 520.7,2381.0 520.8,2378.2 520.8,2376.1 520.9,2374.4 521.0,2374.1 521.1,2374.5 521.2,2376.0 521.2,2378.3 521.3,2381.1 521.4,2384.2 521.5,2387.6 521.5,2391.0 521.6,2394.2 521.7,2397.0 521.8,2399.5 521.9,2402.2 521.9,2404.8 522.0,2407.6 522.1,2410.2 522.2,2413.0 522.2,2415.7 522.3,2418.4 522.4,2421.1 522.5,2423.8 522.5,2426.4 522.6,2428.9 522.7,2431.3 522.8,2433.7 522.8,2435.9 522.9,2438.1 523.0,2440.0 523.1,2443.0 523.2,2446.2 523.4,2449.0 523.5,2451.8 523.6,2454.6 523.8,2457.2 523.9,2459.8 524.0,2462.1 524.1,2464.2 524.2,2466.3 524.4,2468.3 524.5,2470.1 524.8,2473.2 525.0,2476.0 525.2,2478.4 525.5,2480.8 525.8,2483.1 526.0,2485.0 526.4,2488.1 526.8,2491.0 527.1,2493.8 527.5,2496.1 527.9,2498.4 528.2,2500.9 528.6,2502.3 529.0,2503.1 530.4,2506.6 531.7,2508.6 533.1,2510.6 534.5,2512.5 535.9,2514.0 537.2,2515.2 538.6,2514.6 541.0,2516.8 543.5,2517.3 545.9,2517.5 548.3,2518.5 550.7,2519.2 553.1,2517.5 555.6,2518.9 558.0,2519.5 560.4,2519.6 562.8,2519.4 565.3,2518.1 567.7,2520.3 570.1,2519.8 572.5,2518.3 574.9,2518.8 577.4,2520.3 579.8,2518.2 582.2,2518.7 583.7,2519.7 585.3,2518.4 586.8,2515.8 588.3,2514.4 589.9,2511.3 591.4,2508.4 591.7,2507.2 592.1,2505.0 592.4,2502.6 592.7,2499.7 593.1,2496.7 593.4,2493.5 593.7,2490.5 594.0,2487.8 594.4,2485.6 594.7,2483.7 595.5,2481.0 596.3,2478.6 597.2,2476.3 598.0,2475.2 598.5,2476.6 599.0,2478.9 599.5,2481.7 600.0,2484.7 600.5,2485.9 601.9,2489.1 603.3,2490.4 604.8,2492.2 606.2,2494.3 607.6,2494.4 609.7,2494.1 611.8,2492.8 613.9,2492.0 616.0,2491.9 618.5,2492.7 620.9,2491.8 623.3,2493.9 625.8,2493.2 626.1,2493.2 626.5,2493.3 626.8,2492.1 627.1,2491.0 627.4,2489.4 627.8,2487.3 628.1,2484.9 628.4,2482.3 628.7,2479.7 629.1,2476.7 629.4,2473.2 629.7,2469.5 630.0,2465.7 630.4,2461.6 630.7,2457.4 630.8,2455.9 630.8,2454.0 630.9,2451.5 631.0,2448.7 631.1,2445.6 631.2,2442.2 631.3,2438.8 631.3,2435.5 631.4,2432.3 631.5,2429.2 631.6,2426.5 631.7,2424.3 631.7,2422.5 631.8,2421.4 631.9,2421.0 632.0,2421.3 632.1,2422.3 632.3,2424.0 632.4,2426.2 632.5,2428.8 632.6,2431.8 632.7,2434.9 632.9,2438.1 633.0,2441.5 633.1,2444.8 633.2,2447.9 633.3,2450.9 633.5,2453.4 633.6,2455.8 633.7,2457.4 634.0,2461.0 634.3,2464.6 634.6,2468.2 634.9,2471.4 635.3,2474.6 635.6,2477.4 635.9,2480.2 636.2,2482.6 636.5,2484.4 636.8,2486.3 637.1,2487.3 637.4,2488.7 637.7,2489.5 640.2,2490.8 642.6,2490.3 645.1,2490.4 647.5,2492.2 650.0,2492.6 652.1,2492.7 654.2,2494.0 656.4,2496.0 658.5,2496.5 660.6,2498.8 662.8,2499.1 664.9,2500.0 667.0,2500.8 669.4,2501.4 671.8,2502.2 674.2,2500.6 676.7,2502.6 679.1,2501.4 681.5,2501.6 683.9,2502.4 686.3,2501.9 688.8,2501.0 691.2,2500.9 693.6,2498.5 696.0,2498.1 698.4,2498.4 700.8,2497.0 703.3,2496.3 705.7,2496.1 708.1,2497.1 710.5,2496.7 713.0,2495.8 715.4,2495.6 717.8,2494.3 719.2,2492.4 720.6,2490.7 722.0,2488.9 723.3,2485.6 724.7,2483.7 726.1,2480.7 727.5,2478.6 729.2,2477.3 731.0,2475.1 732.7,2474.9 734.4,2473.3 736.1,2471.0 737.9,2468.8 739.6,2466.5 740.6,2465.6 741.5,2464.0 742.5,2462.1 743.5,2460.5 744.5,2458.3 745.4,2456.3 746.4,2453.2 747.4,2450.6 748.3,2448.2 749.3,2445.3 749.8,2443.5 750.3,2442.1 750.8,2439.9 751.2,2437.9 751.7,2435.8 752.2,2433.7 752.7,2431.3 753.2,2428.6 753.7,2426.1 754.2,2423.6 754.7,2420.9 755.1,2417.9 755.6,2414.8 756.1,2412.0 756.6,2409.1 756.9,2406.9 757.2,2404.7 757.5,2402.9 757.9,2400.6 758.2,2397.9 758.5,2395.6 758.8,2393.2 759.1,2390.5 759.4,2387.8 759.8,2385.4 760.1,2382.7 760.4,2379.9 760.7,2377.0 761.0,2374.3 761.3,2371.5 761.7,2369.0 762.0,2365.9 762.3,2363.2 762.6,2360.6 762.9,2358.1 763.1,2355.7 763.4,2353.4 763.7,2351.2 763.9,2349.0 764.2,2346.8 764.5,2344.3 764.7,2341.9 765.0,2339.8 765.3,2337.3 765.5,2334.9 765.8,2332.4 766.1,2330.0 766.3,2327.8 766.6,2325.0 766.9,2322.5 767.1,2320.0 767.4,2317.4 767.7,2314.7 767.9,2311.8 768.2,2309.1 768.5,2306.1 768.7,2303.0 769.0,2300.0 769.2,2298.0 769.3,2296.0 769.5,2293.8 769.7,2291.7 769.9,2289.8 770.0,2287.4 770.2,2285.4 770.4,2283.1 770.6,2280.8 770.7,2278.5 770.9,2276.2 771.1,2274.0 771.2,2271.4 771.4,2269.1 771.6,2266.5 771.8,2263.9 771.9,2261.5 772.1,2258.8 772.3,2256.1 772.4,2253.4 772.6,2250.8 772.8,2248.0 773.0,2245.1 773.1,2242.1 773.3,2239.3 773.5,2236.3 773.7,2233.3 773.8,2230.2 774.0,2227.0 774.1,2225.1 774.2,2223.1 774.3,2220.9 774.4,2218.8 774.5,2216.6 774.6,2214.4 774.7,2212.2 774.8,2209.8 774.9,2207.5 775.1,2205.2 775.2,2202.7 775.3,2200.3 775.4,2197.9 775.5,2195.3 775.6,2192.7 775.7,2190.2 775.8,2187.6 775.9,2185.0 776.0,2182.3 776.1,2179.6 776.2,2176.9 776.3,2174.2 776.4,2171.5 776.5,2168.7 776.6,2166.0 776.7,2163.2 776.8,2160.5 776.9,2157.7 777.1,2154.9 777.2,2152.1 777.3,2149.4 777.4,2146.6 777.5,2143.8 777.6,2141.0 777.7,2138.3 777.8,2135.5 777.9,2132.8 778.0,2130.0 778.1,2127.4 778.2,2124.6 778.3,2121.4 778.4,2118.1 778.5,2114.7 778.6,2111.4 778.7,2108.0 778.8,2104.7 778.8,2101.5 778.9,2098.5 779.0,2095.9 779.1,2093.5 779.2,2091.6 779.3,2090.1 779.4,2089.5 779.5,2088.2 780.5,2088.5 780.6,2089.1 780.7,2090.2 780.8,2091.5 780.9,2093.3 781.0,2095.5 781.1,2098.1 781.2,2101.0 781.2,2104.0 781.3,2107.2 781.4,2110.6 781.5,2114.0 781.6,2117.4 781.7,2120.8 781.8,2124.0 781.9,2127.2 782.0,2130.0 782.1,2132.3 782.2,2134.7 782.2,2137.1 782.3,2139.4 782.4,2141.8 782.5,2144.2 782.6,2146.6 782.6,2149.0 782.7,2151.4 782.8,2153.9 782.9,2156.4 782.9,2158.9 783.0,2161.4 783.1,2163.8 783.2,2166.4 783.3,2168.9 783.3,2171.5 783.4,2174.0 783.5,2176.6 783.6,2179.2 783.7,2181.7 783.7,2184.4 783.8,2187.0 783.9,2189.6 784.0,2192.2 784.1,2194.8 784.1,2197.5 784.2,2200.1 784.3,2202.7 784.4,2205.5 784.4,2208.2 784.5,2210.8 784.6,2213.5 784.7,2216.2 784.8,2218.9 784.8,2221.5 784.9,2224.3 785.0,2227.0 785.1,2229.4 785.1,2231.9 785.2,2234.5 785.3,2237.2 785.3,2240.0 785.4,2242.7 785.5,2245.6 785.6,2248.5 785.6,2251.3 785.7,2254.3 785.8,2257.1 785.8,2260.1 785.9,2263.0 786.0,2265.9 786.0,2268.7 786.1,2271.5 786.2,2274.3 786.2,2277.0 786.3,2279.6 786.4,2282.2 786.4,2284.7 786.5,2287.0 786.6,2289.3 786.7,2291.4 786.7,2293.5 786.8,2295.3 786.9,2297.0 786.9,2298.6 787.0,2300.1 787.2,2303.9 787.4,2307.6 787.6,2311.0 787.8,2314.2 788.1,2317.3 788.3,2320.1 788.5,2322.8 788.7,2325.2 788.9,2327.6 789.1,2330.0 789.3,2332.3 789.5,2334.4 789.7,2336.3 789.9,2338.3 790.2,2340.4 790.4,2342.3 790.6,2344.4 790.8,2346.5 791.0,2348.3 791.3,2351.5 791.6,2354.6 791.9,2357.6 792.3,2360.5 792.6,2363.4 792.9,2366.1 793.2,2369.1 793.5,2371.8 793.8,2374.1 794.2,2377.1 794.5,2379.4 794.8,2381.7 795.1,2384.1 795.4,2386.7 795.7,2388.9 796.1,2390.8 796.4,2393.0 796.7,2395.1 797.0,2397.1 797.5,2400.0 798.1,2403.4 798.6,2406.2 799.2,2409.1 799.7,2411.9 800.2,2414.6 800.8,2417.1 801.3,2418.9 801.9,2420.4 802.4,2421.7 803.9,2423.7 805.3,2425.4 806.8,2426.8 808.2,2428.6 809.7,2430.5 810.3,2432.4 810.9,2434.7 811.5,2437.8 812.2,2440.3 812.8,2443.2 813.4,2444.8 814.0,2445.5 815.8,2447.7 817.6,2447.8 819.4,2448.0 821.2,2447.7 823.0,2448.2 824.7,2447.5 826.5,2445.1 827.4,2444.2 828.2,2443.0 829.1,2441.3 830.0,2439.6 830.9,2436.8 831.7,2433.8 832.6,2431.0 832.9,2429.7 833.1,2428.0 833.4,2426.7 833.6,2424.7 833.9,2422.5 834.1,2420.3 834.4,2417.9 834.7,2415.1 834.9,2412.4 835.2,2409.4 835.4,2406.5 835.7,2403.4 835.9,2400.2 836.2,2397.0 836.3,2395.0 836.5,2393.2 836.6,2391.3 836.7,2389.2 836.9,2386.9 837.0,2384.6 837.2,2382.2 837.3,2379.9 837.4,2377.2 837.6,2374.6 837.7,2371.9 837.8,2369.1 838.0,2366.4 838.1,2363.6 838.3,2360.5 838.4,2357.6 838.5,2354.6 838.7,2351.5 838.8,2348.4 838.9,2346.4 839.0,2344.2 839.1,2342.2 839.2,2340.1 839.2,2337.8 839.3,2335.6 839.4,2333.3 839.5,2330.9 839.6,2328.6 839.7,2326.1 839.8,2323.5 839.9,2320.9 840.0,2318.2 840.1,2315.4 840.1,2312.6 840.2,2309.6 840.3,2306.5 840.4,2303.3 840.5,2300.0 840.5,2298.2 840.6,2296.4 840.6,2294.4 840.7,2292.4 840.7,2290.3 840.8,2288.2 840.8,2285.9 840.9,2283.7 840.9,2281.3 841.0,2278.9 841.0,2276.5 841.1,2274.0 841.1,2271.5 841.1,2268.9 841.2,2266.2 841.2,2263.6 841.3,2260.8 841.3,2258.1 841.4,2255.4 841.4,2252.6 841.5,2249.8 841.5,2247.0 841.6,2244.2 841.6,2241.3 841.7,2238.5 841.7,2235.7 841.7,2232.8 841.8,2230.0 841.8,2227.1 841.9,2224.3 841.9,2221.5 842.0,2218.7 842.0,2216.0 842.1,2213.2 842.1,2210.5 842.2,2207.8 842.2,2205.2 842.3,2202.6 842.3,2200.0 842.3,2197.5 842.4,2195.0 842.4,2192.6 842.5,2190.1 842.5,2187.6 842.6,2185.1 842.6,2182.7 842.7,2180.3 842.7,2177.9 842.8,2175.4 842.8,2172.9 842.8,2170.4 842.9,2168.0 842.9,2165.5 843.0,2163.0 843.0,2160.5 843.1,2158.0 843.1,2155.5 843.2,2152.8 843.2,2150.3 843.3,2147.7 843.3,2145.0 843.3,2142.4 843.4,2139.5 843.4,2136.3 843.5,2133.1 843.5,2129.8 843.5,2126.6 843.6,2123.6 843.6,2120.8 843.7,2118.3 843.7,2116.3 843.8,2114.8 843.8,2114.0 844.2,2110.5 844.6,2108.2 845.0,2107.2 845.7,2105.3 846.3,2103.4 847.0,2099.9 847.1,2099.2 847.1,2097.6 847.2,2095.6 847.3,2093.1 847.4,2090.2 847.5,2087.0 847.5,2083.6 847.6,2080.0 847.6,2078.9 847.6,2077.7 847.7,2076.3 847.7,2074.8 847.7,2073.2 847.7,2071.4 847.7,2069.5 847.8,2067.5 847.8,2065.4 847.8,2063.2 847.8,2060.8 847.8,2058.3 847.9,2055.8 847.9,2053.1 847.9,2050.4 847.9,2047.6 848.0,2044.7 848.0,2041.7 848.0,2038.6 848.0,2035.5 848.0,2032.3 848.1,2029.1 848.1,2025.8 848.1,2022.4 848.1,2019.0 848.1,2015.5 848.2,2012.0 848.2,2008.5 848.2,2004.9 848.2,2001.3 848.2,1997.7 848.3,1994.1 848.3,1990.4 848.3,1986.8 848.3,1983.1 848.3,1979.5 848.4,1975.8 848.4,1972.2 848.4,1968.5 848.4,1964.9 848.5,1961.3 848.5,1957.7 848.5,1954.1 848.5,1950.6 848.5,1947.1 848.6,1943.7 848.6,1940.2 848.6,1936.9 848.6,1933.6 848.6,1930.4 848.7,1927.2 848.7,1924.0 848.7,1921.0 848.7,1918.0 848.7,1915.1 848.8,1912.3 848.8,1909.6 848.8,1907.0 848.8,1904.5 848.8,1902.0 848.9,1899.7 848.9,1897.5 848.9,1895.3 848.9,1893.4 849.0,1891.5 849.0,1889.7 849.0,1888.1 849.0,1886.6 849.0,1885.3 849.1,1884.1 849.1,1883.0 849.1,1882.1 849.1,1881.4 849.1,1880.7 849.2,1880.3 849.2,1879.6 849.2,1881.0 850.3,1880.0 850.3,1880.0 850.3,1880.3 850.3,1880.7 850.3,1881.2 850.4,1881.8 850.4,1882.6 850.4,1883.5 850.4,1884.5 850.4,1885.7 850.4,1886.9 850.4,1888.3 850.4,1889.8 850.4,1891.5 850.4,1893.2 850.5,1895.0 850.5,1897.0 850.5,1899.0 850.5,1901.1 850.5,1903.4 850.5,1905.7 850.5,1908.1 850.5,1910.6 850.5,1913.1 850.6,1915.8 850.6,1918.5 850.6,1921.3 850.6,1924.2 850.6,1927.1 850.6,1930.1 850.6,1933.1 850.6,1936.2 850.6,1939.4 850.6,1942.6 850.7,1945.8 850.7,1949.1 850.7,1952.4 850.7,1955.8 850.7,1959.2 850.7,1962.6 850.7,1966.1 850.7,1969.6 850.7,1973.1 850.8,1976.6 850.8,1980.2 850.8,1983.7 850.8,1987.3 850.8,1990.8 850.8,1994.4 850.8,1998.0 850.8,2001.6 850.8,2005.1 850.9,2008.7 850.9,2012.2 850.9,2015.7 850.9,2019.2 850.9,2022.7 850.9,2026.2 850.9,2029.6 850.9,2033.0 850.9,2036.4 850.9,2039.7 851.0,2043.0 851.0,2046.2 851.0,2049.4 851.0,2052.5 851.0,2055.6 851.0,2058.6 851.0,2061.6 851.0,2064.5 851.0,2067.4 851.1,2070.1 851.1,2072.8 851.1,2075.5 851.1,2078.0 851.1,2080.5 851.1,2082.9 851.1,2085.2 851.1,2087.4 851.1,2089.5 851.1,2091.5 851.2,2093.4 851.2,2095.2 851.2,2096.9 851.2,2098.5 851.2,2100.0 851.2,2103.7 851.3,2107.3 851.3,2110.8 851.3,2114.1 851.3,2117.4 851.4,2120.5 851.4,2123.5 851.4,2126.4 851.5,2129.2 851.5,2132.0 851.5,2134.6 851.5,2137.2 851.6,2139.7 851.6,2142.1 851.6,2144.5 851.7,2146.8 851.7,2149.1 851.7,2151.4 851.7,2153.6 851.8,2155.8 851.8,2158.0 851.8,2160.1 851.8,2162.2 851.9,2164.4 851.9,2166.5 851.9,2168.7 852.0,2170.8 852.0,2173.1 852.0,2175.2 852.0,2177.5 852.1,2179.8 852.1,2182.1 852.1,2184.5 852.2,2186.9 852.2,2189.3 852.2,2191.9 852.2,2194.5 852.3,2197.2 852.3,2200.0 852.3,2202.4 852.3,2204.8 852.4,2207.2 852.4,2209.8 852.4,2212.4 852.4,2215.0 852.5,2217.7 852.5,2220.4 852.5,2223.2 852.5,2226.0 852.6,2228.8 852.6,2231.6 852.6,2234.5 852.6,2237.3 852.6,2240.2 852.7,2243.1 852.7,2245.9 852.7,2248.8 852.7,2251.7 852.8,2254.5 852.8,2257.4 852.8,2260.2 852.8,2263.0 852.9,2265.7 852.9,2268.4 852.9,2271.1 852.9,2273.7 852.9,2276.3 853.0,2278.8 853.0,2281.3 853.0,2283.6 853.0,2286.0 853.1,2288.2 853.1,2290.4 853.1,2292.5 853.1,2294.5 853.2,2296.4 853.2,2298.3 853.2,2300.0 853.2,2303.6 853.3,2307.1 853.4,2310.6 853.4,2313.9 853.5,2317.2 853.5,2320.4 853.6,2323.6 853.6,2326.6 853.7,2329.6 853.7,2332.5 853.8,2335.3 853.8,2338.1 853.9,2340.8 853.9,2343.4 854.0,2346.0 854.0,2348.4 854.1,2350.9 854.1,2353.2 854.1,2355.4 854.2,2357.6 854.2,2359.7 854.3,2361.8 854.4,2363.8 854.4,2365.7 854.5,2367.5 854.5,2369.2 854.6,2370.9 854.6,2372.6 854.7,2376.3 854.8,2379.7 854.9,2383.0 855.1,2386.3 855.2,2389.3 855.3,2392.3 855.4,2395.2 855.5,2397.9 855.6,2400.6 855.8,2403.1 855.9,2405.4 856.0,2407.7 856.1,2409.9 856.2,2412.0 856.3,2414.0 856.5,2415.8 856.6,2417.8 856.7,2419.3 856.8,2420.9 857.1,2424.4 857.3,2427.6 857.6,2430.7 857.8,2433.8 858.1,2436.6 858.3,2439.1 858.6,2441.5 858.9,2444.0 859.1,2446.0 859.4,2448.1 859.6,2450.1 859.9,2451.8 860.1,2453.3 860.4,2454.8 861.0,2458.5 861.6,2462.2 862.2,2465.4 862.8,2467.9 863.5,2470.6 864.1,2472.6 864.7,2473.4 865.3,2474.8 867.6,2474.3 870.0,2475.1 870.5,2473.6 871.1,2472.8 871.6,2470.7 872.1,2467.9 872.7,2464.7 873.2,2461.6 873.8,2458.1 874.3,2455.1 874.6,2452.8 874.8,2449.9 875.1,2447.7 875.4,2446.0 875.5,2447.2 875.7,2449.0 875.8,2451.6 875.9,2454.9 876.1,2458.4 876.2,2462.0 876.3,2465.2 876.5,2467.7 876.6,2469.6 877.1,2473.4 877.6,2477.0 878.0,2479.8 878.5,2482.7 879.0,2484.3 879.4,2485.2 879.9,2485.7 881.9,2488.3 883.9,2489.6 885.9,2489.7 887.9,2489.1 889.9,2491.3 891.9,2491.7 893.9,2491.9 895.9,2493.9 898.0,2496.1 900.0,2496.6 902.0,2498.0 904.0,2499.5 906.4,2501.5 908.8,2502.5 911.3,2501.6 913.7,2503.6 916.1,2503.9 918.5,2504.5 921.0,2504.3 923.4,2505.6 925.8,2505.0 928.2,2506.0 930.6,2505.2 933.1,2504.4 935.5,2505.4 937.9,2505.5 940.3,2505.2 942.8,2505.4 945.2,2505.8 947.6,2506.0 949.6,2504.7 951.6,2503.5 953.7,2502.2 955.7,2500.4 957.7,2498.9 959.7,2499.0 961.4,2498.4 963.2,2500.3 964.9,2501.6 966.6,2504.3 968.3,2506.1 970.1,2507.8 971.8,2508.2 974.2,2508.3 976.6,2510.4 979.0,2509.9 981.5,2510.0 983.9,2510.0 986.3,2510.3 988.1,2510.6 989.9,2509.4 991.8,2507.2 993.6,2505.5 995.4,2502.8 997.2,2501.4 999.1,2500.0 1000.9,2499.3 1002.7,2499.9 1004.5,2501.8 1006.3,2503.3 1008.1,2504.3 1010.0,2506.3 1011.8,2508.9 1013.6,2510.1 1015.4,2511.0 1017.8,2511.5 1020.2,2512.1 1022.6,2511.6 1025.1,2511.4 1027.5,2512.4 1029.9,2511.7 1032.3,2514.3 1034.7,2512.9 1037.2,2512.8 1039.6,2512.7 1042.0,2511.4 1044.5,2509.1 1046.9,2507.9 1047.9,2506.8 1049.0,2506.6 1050.0,2504.8 1051.0,2502.5 1052.1,2499.9 1053.1,2496.9 1054.1,2493.7 1054.4,2492.9 1054.6,2491.9 1054.9,2490.6 1055.1,2489.2 1055.4,2487.4 1055.6,2485.7 1055.9,2483.7 1056.1,2481.9 1056.3,2479.3 1056.6,2476.9 1056.8,2474.2 1057.1,2471.5 1057.3,2468.4 1057.6,2465.0 1057.8,2461.7 1058.1,2457.9 1058.3,2453.9 1058.6,2449.7 1058.8,2445.3 1058.9,2443.8 1059.0,2441.9 1059.0,2439.7 1059.1,2437.0 1059.2,2434.0 1059.2,2430.9 1059.3,2427.4 1059.4,2423.9 1059.4,2420.3 1059.5,2416.7 1059.5,2413.1 1059.6,2409.6 1059.7,2406.3 1059.7,2403.1 1059.8,2400.2 1059.9,2397.5 1059.9,2395.2 1060.0,2393.3 1060.1,2392.0 1060.1,2391.2 1060.2,2390.6 1060.3,2391.0 1060.4,2392.0 1060.5,2393.3 1060.5,2395.0 1060.6,2397.2 1060.7,2399.8 1060.8,2402.6 1060.9,2405.6 1061.0,2408.9 1061.1,2412.3 1061.1,2415.8 1061.2,2419.4 1061.3,2422.9 1061.4,2426.4 1061.5,2429.8 1061.6,2433.1 1061.7,2436.1 1061.7,2439.0 1061.8,2441.4 1061.9,2443.6 1062.0,2445.3 1062.2,2449.2 1062.4,2452.8 1062.7,2456.5 1062.9,2459.8 1063.1,2463.1 1063.3,2466.4 1063.6,2469.4 1063.8,2472.1 1064.0,2474.9 1064.2,2477.4 1064.4,2479.9 1064.7,2481.9 1064.9,2484.1 1065.1,2486.0 1065.3,2488.0 1065.6,2489.7 1065.8,2491.3 1066.0,2492.5 1066.2,2493.6 1066.9,2497.3 1067.6,2500.1 1068.3,2503.1 1069.0,2505.9 1069.6,2507.6 1070.3,2509.6 1071.0,2508.4 1073.4,2509.6 1075.9,2509.2 1078.3,2508.8 1080.7,2509.1 1083.1,2509.2 1085.6,2510.1 1088.0,2510.4 1090.3,2510.9 1092.7,2510.8 1095.0,2512.2 1097.4,2512.3 1099.8,2513.9 1102.1,2512.4 1104.5,2513.7 1106.8,2514.0 1109.2,2513.9 1111.5,2515.3 1113.6,2513.4 1115.6,2514.5 1117.7,2512.7 1119.8,2511.7 1121.9,2511.1 1123.9,2509.7 1126.0,2507.8 1127.2,2506.5 1128.4,2506.2 1129.6,2503.6 1130.8,2501.1 1132.1,2499.3 1133.3,2496.7 1134.5,2493.8 1135.7,2491.1 1136.5,2489.6 1137.4,2486.9 1138.2,2484.4 1139.0,2482.2 1139.8,2479.0 1140.7,2476.3 1141.5,2473.5 1142.3,2471.4 1143.2,2469.1 1144.0,2466.9 1144.9,2464.8 1145.7,2462.7 1146.6,2462.9 1147.3,2463.2 1148.1,2466.0 1148.8,2469.0 1149.6,2472.3 1150.3,2473.8 1151.9,2476.8 1153.5,2480.3 1155.1,2482.2 1156.7,2484.0 1158.3,2484.8 1159.9,2485.1 1161.8,2484.3 1163.8,2483.8 1165.7,2484.1 1167.7,2483.2 1169.6,2481.2 1170.4,2480.9 1171.3,2479.0 1172.1,2477.6 1172.9,2475.0 1173.8,2472.7 1174.6,2469.8 1175.4,2466.9 1176.2,2463.5 1177.1,2460.6 1177.9,2457.5 1178.4,2455.4 1178.9,2453.7 1179.3,2452.2 1179.8,2450.2 1180.3,2448.1 1180.8,2445.9 1181.2,2443.2 1181.7,2440.2 1182.2,2437.0 1182.7,2433.3 1182.8,2431.3 1183.0,2428.4 1183.2,2425.0 1183.3,2421.5 1183.5,2418.2 1183.7,2415.4 1183.8,2413.4 1184.0,2412.2 1184.1,2413.1 1184.2,2414.2 1184.3,2416.4 1184.4,2418.9 1184.5,2421.8 1184.6,2425.0 1184.8,2428.5 1184.9,2431.9 1185.0,2435.4 1185.1,2438.5 1185.2,2441.2 1185.3,2443.7 1185.4,2445.3 1185.7,2449.4 1186.1,2453.1 1186.4,2456.7 1186.7,2460.2 1187.1,2463.2 1187.4,2466.4 1187.7,2468.9 1188.0,2471.3 1188.4,2473.8 1188.7,2475.8 1189.0,2477.7 1189.4,2479.6 1189.7,2480.8 1190.0,2482.0 1190.4,2483.1 1190.7,2483.8 1192.4,2487.5 1194.0,2489.9 1195.7,2491.5 1197.4,2492.6 1197.9,2490.8 1198.5,2490.0 1199.0,2487.8 1199.5,2485.8 1200.0,2482.9 1200.6,2479.8 1201.1,2476.2 1201.6,2472.7 1202.1,2469.7 1202.4,2467.1 1202.7,2464.0 1203.0,2460.9 1203.2,2458.2 1203.5,2457.7 1203.7,2458.2 1203.9,2460.4 1204.1,2463.3 1204.3,2466.6 1204.5,2470.0 1204.6,2472.5 1204.8,2474.4 1205.5,2478.2 1206.3,2481.2 1207.0,2484.3 1207.7,2486.5 1208.4,2488.2 1209.1,2489.6 1209.8,2491.6 1210.5,2491.0 1213.0,2491.9 1215.5,2492.2 1217.9,2491.2 1220.4,2493.2 1222.0,2492.6 1223.6,2491.7 1225.2,2489.4 1226.8,2487.4 1228.4,2485.7 1230.0,2484.3 1231.4,2482.7 1232.7,2480.8 1234.1,2479.2 1235.4,2476.9 1236.8,2475.8 1238.2,2472.9 1239.5,2470.2 1240.9,2467.3 1241.4,2465.2 1242.0,2463.7 1242.5,2461.3 1243.0,2459.1 1243.5,2456.1 1244.1,2453.4 1244.6,2450.8 1245.1,2448.0 1245.6,2445.2 1246.1,2442.4 1246.5,2439.2 1247.0,2437.9 1247.2,2438.6 1247.4,2440.9 1247.5,2443.8 1247.7,2447.3 1247.9,2450.7 1248.1,2453.9 1248.2,2456.3 1248.4,2457.1 1249.8,2461.0 1251.2,2462.9 1252.6,2465.5 1254.0,2466.7 1255.4,2467.2 1256.8,2467.9 1259.2,2466.7 1261.6,2467.2 1264.0,2467.6 1266.5,2465.4 1268.9,2464.9 1271.3,2465.7 1272.7,2466.5 1274.1,2467.4 1275.5,2469.7 1276.8,2472.9 1278.2,2474.9 1279.6,2476.9 1281.0,2478.7 1282.7,2481.3 1284.4,2482.8 1286.1,2485.3 1287.9,2487.2 1289.6,2488.5 1291.3,2489.6 1293.0,2490.9 1295.4,2488.6 1297.9,2490.3 1300.3,2487.9 1302.8,2486.6 1305.2,2486.9 1307.0,2484.5 1308.8,2482.9 1309.5,2483.2 1310.2,2485.6 1310.9,2487.9 1311.6,2491.2 1312.3,2493.9 1313.0,2496.8 1313.7,2498.7 1315.2,2501.0 1316.7,2503.5 1318.2,2504.4 1319.7,2506.2 1322.1,2506.1 1324.5,2504.4 1326.9,2504.7 1329.3,2504.1 1331.7,2501.7 1334.1,2501.6 1335.1,2500.0 1336.1,2496.7 1337.0,2494.2 1338.0,2491.7 1339.0,2490.6 1340.0,2491.6 1341.0,2494.3 1342.0,2496.9 1343.0,2499.8 1344.0,2502.2 1345.0,2503.1 1347.3,2504.8 1349.5,2505.3 1351.8,2504.3 1354.0,2504.8 1356.3,2504.4 1358.5,2505.3 1360.9,2504.7 1363.3,2505.8 1365.7,2505.5 1368.2,2505.5 1370.6,2503.2 1373.0,2502.3 1375.4,2504.1 1377.8,2503.4 1380.2,2505.2 1382.7,2504.7 1385.1,2505.1 1387.5,2504.6 1389.9,2507.0 1392.4,2505.6 1394.8,2505.2 1397.2,2504.8 1399.6,2505.2 1402.1,2504.8 1404.5,2503.3 1406.3,2502.2 1408.1,2501.9 1409.8,2501.6 1411.6,2499.1 1413.4,2497.1 1415.2,2493.8 1415.5,2492.4 1415.7,2490.1 1416.0,2486.9 1416.2,2483.8 1416.5,2481.0 1416.7,2478.6 1417.0,2477.7 1417.3,2479.0 1417.6,2481.0 1417.9,2483.4 1418.2,2486.8 1418.5,2489.8 1418.8,2492.4 1419.1,2493.7 1420.5,2496.7 1421.9,2499.6 1423.4,2502.1 1424.8,2503.4 1426.2,2502.6 1427.0,2503.3 1427.8,2502.3 1428.6,2500.8 1429.4,2498.3 1430.1,2496.2 1430.9,2493.4 1431.7,2490.6 1432.5,2487.2 1433.3,2483.8 1433.6,2482.2 1434.0,2479.3 1434.3,2476.3 1434.6,2472.8 1434.9,2469.8 1435.2,2467.2 1435.6,2465.0 1435.9,2465.1 1436.2,2465.0 1436.6,2467.2 1436.9,2469.5 1437.2,2472.8 1437.5,2476.0 1437.8,2479.1 1438.2,2481.9 1438.5,2484.0 1439.2,2487.5 1440.0,2490.7 1440.7,2494.2 1441.5,2497.1 1442.2,2500.2 1443.0,2502.0 1443.7,2503.9 1444.4,2504.8 1445.2,2506.8 1447.7,2506.3 1450.2,2507.7 1452.7,2508.7 1455.2,2507.8 1457.7,2508.9 1460.1,2507.5 1462.5,2507.0 1464.9,2506.5 1467.3,2507.2 1469.8,2507.8 1472.2,2505.7 1474.6,2505.7 1477.0,2505.8 1479.4,2504.1 1481.5,2503.2 1483.5,2503.1 1485.6,2501.8 1487.7,2501.5 1489.8,2500.0 1491.8,2497.2 1493.9,2496.1 1495.2,2494.7 1496.6,2492.8 1497.9,2492.0 1499.3,2491.0 1500.6,2488.3 1502.0,2486.7 1503.3,2484.6 1504.7,2481.4 1506.0,2479.6 1506.6,2477.5 1507.2,2476.1 1507.8,2474.8 1508.4,2472.4 1509.0,2470.7 1509.6,2468.4 1510.2,2466.3 1510.9,2463.5 1511.5,2461.0 1512.1,2458.2 1512.7,2455.1 1513.3,2452.0 1513.9,2448.7 1514.5,2445.3 1514.8,2443.6 1515.0,2442.1 1515.3,2440.1 1515.5,2438.1 1515.8,2436.0 1516.0,2434.0 1516.3,2431.4 1516.5,2429.2 1516.8,2426.4 1517.0,2424.0 1517.3,2421.2 1517.5,2418.4 1517.8,2415.6 1518.0,2412.4 1518.3,2409.4 1518.5,2406.5 1518.8,2403.3 1519.0,2400.2 1519.3,2396.8 1519.5,2394.9 1519.6,2392.8 1519.8,2390.8 1519.9,2388.7 1520.1,2386.6 1520.2,2384.3 1520.4,2382.0 1520.5,2379.7 1520.7,2377.2 1520.8,2374.8 1521.0,2372.2 1521.1,2369.5 1521.3,2366.7 1521.4,2364.0 1521.6,2361.1 1521.7,2358.1 1521.9,2354.9 1522.0,2351.7 1522.2,2348.5 1522.3,2346.5 1522.4,2344.6 1522.5,2342.6 1522.5,2340.5 1522.6,2338.3 1522.7,2336.0 1522.8,2333.7 1522.9,2331.3 1523.0,2328.8 1523.0,2326.3 1523.1,2323.7 1523.2,2321.0 1523.3,2318.2 1523.4,2315.3 1523.5,2312.5 1523.5,2309.4 1523.6,2306.4 1523.7,2303.2 1523.8,2300.0 1523.8,2298.2 1523.9,2296.3 1523.9,2294.2 1524.0,2292.2 1524.0,2290.0 1524.1,2287.9 1524.1,2285.6 1524.2,2283.3 1524.2,2280.9 1524.3,2278.4 1524.3,2276.0 1524.4,2273.5 1524.4,2270.9 1524.4,2268.3 1524.5,2265.7 1524.5,2263.0 1524.6,2260.3 1524.6,2257.5 1524.7,2254.8 1524.7,2252.0 1524.8,2249.2 1524.8,2246.4 1524.9,2243.6 1524.9,2240.8 1525.0,2238.0 1525.0,2235.1 1525.0,2232.4 1525.1,2229.5 1525.1,2226.7 1525.2,2223.9 1525.2,2221.2 1525.3,2218.4 1525.3,2215.7 1525.4,2213.0 1525.4,2210.3 1525.5,2207.7 1525.5,2205.1 1525.6,2202.5 1525.6,2200.0 1525.6,2197.4 1525.7,2194.7 1525.7,2191.9 1525.8,2189.2 1525.8,2186.4 1525.9,2183.6 1525.9,2180.8 1526.0,2177.9 1526.0,2175.1 1526.1,2172.2 1526.1,2169.4 1526.2,2166.5 1526.2,2163.7 1526.3,2160.8 1526.3,2158.0 1526.4,2155.1 1526.4,2152.3 1526.5,2149.4 1526.5,2146.6 1526.6,2143.9 1526.6,2141.1 1526.7,2138.4 1526.7,2135.8 1526.8,2133.1 1526.8,2130.5 1526.9,2128.0 1526.9,2125.4 1527.0,2122.9 1527.0,2120.5 1527.1,2118.1 1527.1,2115.9 1527.2,2113.6 1527.2,2111.5 1527.3,2109.3 1527.3,2107.3 1527.4,2105.4 1527.4,2103.5 1527.5,2101.8 1527.5,2100.0 1527.6,2096.9 1527.7,2093.7 1527.8,2090.4 1527.8,2087.5 1527.9,2085.0 1528.0,2082.9 1528.1,2081.5 1528.2,2081.9 1529.0,2080.6 1529.1,2081.5 1529.2,2082.7 1529.4,2084.7 1529.5,2087.2 1529.6,2090.2 1529.8,2093.4 1529.9,2096.7 1530.0,2100.0 1530.1,2101.4 1530.1,2103.0 1530.2,2104.6 1530.2,2106.3 1530.3,2108.1 1530.3,2110.1 1530.4,2112.1 1530.4,2114.2 1530.5,2116.5 1530.5,2118.8 1530.6,2121.2 1530.6,2123.6 1530.7,2126.1 1530.7,2128.7 1530.8,2131.3 1530.8,2134.0 1530.9,2136.7 1530.9,2139.5 1531.0,2142.3 1531.0,2145.1 1531.1,2148.1 1531.1,2151.0 1531.2,2153.9 1531.2,2156.8 1531.3,2159.8 1531.3,2162.7 1531.4,2165.7 1531.4,2168.7 1531.5,2171.7 1531.5,2174.6 1531.6,2177.6 1531.6,2180.5 1531.7,2183.4 1531.7,2186.3 1531.8,2189.1 1531.8,2191.9 1531.9,2194.6 1531.9,2197.3 1532.0,2200.0 1532.0,2202.5 1532.1,2205.0 1532.1,2207.5 1532.2,2210.0 1532.2,2212.5 1532.3,2215.1 1532.3,2217.6 1532.4,2220.1 1532.4,2222.6 1532.5,2225.1 1532.5,2227.7 1532.6,2230.2 1532.6,2232.7 1532.7,2235.3 1532.7,2237.8 1532.8,2240.4 1532.8,2242.9 1532.9,2245.4 1532.9,2248.0 1533.0,2250.5 1533.0,2253.1 1533.1,2255.7 1533.1,2258.3 1533.2,2260.9 1533.2,2263.4 1533.3,2266.0 1533.3,2268.6 1533.4,2271.2 1533.4,2273.8 1533.5,2276.4 1533.5,2279.0 1533.6,2281.6 1533.6,2284.2 1533.7,2286.8 1533.7,2289.5 1533.8,2292.1 1533.8,2294.7 1533.9,2297.4 1533.9,2300.0 1533.9,2302.6 1534.0,2305.2 1534.0,2307.9 1534.1,2310.6 1534.1,2313.4 1534.2,2316.2 1534.2,2319.0 1534.3,2321.9 1534.3,2324.7 1534.4,2327.7 1534.4,2330.5 1534.5,2333.4 1534.5,2336.3 1534.6,2339.1 1534.6,2341.9 1534.6,2344.7 1534.7,2347.4 1534.7,2350.1 1534.8,2352.7 1534.8,2355.3 1534.9,2357.8 1534.9,2360.2 1535.0,2362.5 1535.0,2364.8 1535.1,2366.9 1535.1,2368.9 1535.2,2370.8 1535.2,2372.6 1535.3,2376.1 1535.4,2379.6 1535.5,2383.0 1535.6,2386.3 1535.7,2389.6 1535.8,2392.7 1535.9,2395.8 1536.0,2398.8 1536.1,2401.7 1536.2,2404.6 1536.3,2407.3 1536.3,2409.9 1536.4,2412.5 1536.5,2415.0 1536.6,2417.2 1536.7,2419.6 1536.8,2421.6 1536.9,2423.7 1537.0,2425.6 1537.1,2427.3 1537.2,2429.0 1537.3,2430.5 1537.4,2432.0 1537.5,2433.2 1537.8,2437.1 1538.1,2440.7 1538.5,2444.1 1538.8,2447.4 1539.1,2450.2 1539.4,2453.0 1539.7,2455.2 1540.1,2457.6 1540.4,2459.7 1540.7,2461.6 1541.0,2463.6 1541.3,2465.0 1541.7,2466.7 1542.0,2468.3 1542.3,2469.8 1543.1,2472.4 1543.9,2475.5 1544.7,2478.4 1545.5,2481.2 1546.4,2482.7 1547.2,2485.3 1548.0,2486.5 1548.8,2488.0 1549.6,2489.6 1551.6,2490.1 1553.6,2492.3 1555.7,2493.3 1557.7,2494.3 1559.7,2495.3 1561.7,2496.6 1563.8,2496.1 1565.8,2494.7 1567.9,2495.9 1570.0,2494.5 1572.0,2493.0 1573.1,2492.6 1574.1,2490.1 1575.2,2487.1 1576.2,2487.6 1577.0,2487.5 1577.9,2489.0 1578.7,2491.5 1579.5,2495.0 1580.4,2497.4 1581.2,2497.9 1583.3,2500.8 1585.3,2502.4 1587.4,2503.5 1589.4,2505.0 1591.5,2506.2 1593.5,2505.2 1595.6,2506.7 1598.0,2506.9 1600.4,2505.1 1602.8,2505.9 1605.2,2505.7 1607.6,2505.8 1610.0,2504.8 1612.4,2503.5 1614.9,2502.6 1617.3,2502.2 1619.8,2500.5 1622.2,2502.0 1624.2,2502.2 1626.2,2501.9 1628.2,2504.0 1630.3,2505.4 1632.3,2505.5 1634.3,2507.7 1636.7,2508.2 1639.2,2507.6 1641.6,2507.5 1644.0,2508.3 1646.4,2509.9 1648.9,2509.2 1651.3,2510.3 1653.7,2508.4 1656.1,2507.9 1658.5,2507.9 1661.0,2508.4 1663.4,2506.1 1665.8,2505.2 1668.2,2506.4 1670.7,2504.4 1673.3,2505.7 1675.8,2504.0 1678.3,2504.3 1680.8,2505.3 1683.4,2505.6 1685.9,2504.1 1688.4,2503.8 1691.0,2502.4 1691.5,2502.7 1692.1,2501.4 1692.6,2500.0 1693.2,2497.5 1693.8,2494.8 1694.3,2491.6 1694.9,2488.4 1695.4,2484.8 1696.0,2481.5 1696.3,2479.2 1696.6,2476.3 1696.9,2473.0 1697.2,2469.4 1697.6,2466.2 1697.9,2463.4 1698.2,2461.9 1698.5,2461.2 1698.7,2461.7 1698.8,2463.4 1699.0,2466.1 1699.2,2469.2 1699.3,2472.3 1699.5,2475.2 1699.7,2477.8 1699.8,2479.1 1700.6,2483.3 1701.3,2487.0 1702.1,2490.6 1702.8,2493.5 1703.6,2495.2 1704.3,2497.1 1705.1,2499.0 1705.8,2498.4 1707.4,2497.5 1709.0,2496.4 1710.6,2494.2 1711.6,2491.8 1712.5,2489.3 1713.5,2487.4 1714.4,2485.5 1715.4,2484.8 1717.6,2483.3 1719.8,2481.9 1721.9,2482.0 1724.1,2480.9 1726.3,2480.3 1727.5,2478.8 1728.8,2476.8 1730.0,2474.5 1731.2,2474.1 1732.0,2473.8 1732.9,2476.3 1733.7,2478.5 1734.5,2482.1 1735.4,2484.6 1736.2,2486.9 1737.8,2488.5 1739.4,2491.2 1741.0,2491.2 1742.5,2493.9 1744.1,2495.1 1745.7,2495.8 1747.5,2498.3 1749.3,2499.2 1751.1,2501.9 1753.0,2503.3 1754.8,2504.9 1756.6,2505.9 1758.4,2508.2 1760.2,2508.7 1762.6,2507.7 1765.0,2510.4 1767.5,2508.9 1769.9,2509.6 1772.3,2510.0 1774.8,2510.6 1777.2,2511.6 1779.6,2511.8 1782.0,2510.9 1784.4,2509.9 1786.9,2508.9 1789.3,2508.4 1791.7,2508.9 1794.2,2508.4 1796.6,2507.5 1799.0,2508.1 1801.4,2506.2 1803.8,2505.5 1806.2,2504.9 1808.7,2503.6 1811.1,2504.4 1813.5,2502.5 1815.9,2501.1 1817.2,2499.9 1818.6,2498.4 1819.9,2497.1 1821.2,2495.5 1822.6,2493.3 1823.9,2491.4 1825.2,2488.2 1826.6,2484.8 1827.9,2481.2 1828.3,2479.9 1828.8,2478.3 1829.2,2476.4 1829.7,2474.0 1830.1,2471.1 1830.6,2468.6 1831.0,2465.6 1831.5,2462.8 1831.9,2460.1 1832.4,2457.2 1832.7,2454.5 1833.1,2451.9 1833.5,2450.9 1833.8,2451.0 1834.1,2452.8 1834.4,2455.0 1834.7,2457.7 1835.1,2460.8 1835.4,2464.2 1835.7,2467.4 1836.0,2470.2 1836.3,2472.4 1836.6,2474.3 1837.5,2477.4 1838.4,2481.1 1839.3,2483.9 1840.2,2486.1 1841.1,2488.3 1842.0,2489.6 1842.9,2490.4 1843.8,2490.4 1845.9,2491.9 1848.0,2490.4 1850.1,2490.2 1852.2,2488.6 1853.9,2488.5 1855.7,2486.7 1857.4,2485.5 1859.2,2483.8 1861.0,2482.9 1862.8,2480.8 1864.6,2479.8 1865.3,2477.7 1866.0,2475.0 1866.7,2471.9 1867.4,2468.2 1868.1,2465.4 1868.8,2463.0 1869.5,2462.9 1871.9,2460.3 1874.3,2460.9 1876.7,2461.7 1879.1,2461.1 1881.5,2460.3 1883.1,2458.3 1884.8,2456.6 1886.4,2456.7 1887.2,2456.9 1888.1,2459.5 1888.9,2462.1 1889.7,2465.5 1890.6,2468.0 1891.4,2470.0 1893.5,2472.1 1895.5,2472.2 1897.6,2474.4 1899.6,2473.1 1901.7,2475.7 1903.7,2474.8 1905.8,2476.9 1907.8,2478.0 1909.8,2480.3 1911.8,2481.2 1913.9,2482.6 1915.9,2485.0 1917.9,2485.3 1920.3,2486.3 1922.8,2486.0 1925.2,2485.1 1927.6,2487.2 1930.0,2486.0 1932.5,2486.9 1934.9,2486.0 1937.3,2487.1 1939.4,2488.6 1941.5,2489.6 1943.6,2490.2 1945.8,2490.8 1947.9,2492.5 1950.0,2493.4 1952.1,2493.4 1954.2,2495.0 1956.6,2496.0 1959.0,2497.2 1961.5,2496.9 1963.9,2498.0 1966.3,2498.9 1968.8,2499.0 1971.2,2500.2 1973.6,2501.6 1976.0,2501.6 1978.4,2500.9 1980.9,2502.7 1983.3,2501.4 1985.7,2503.3 1988.1,2502.0 1990.5,2502.0 1993.0,2502.6 1995.4,2503.4 1997.8,2502.8 2000.2,2504.2 2002.7,2503.8 2005.1,2501.7 2007.5,2502.0 2009.9,2501.2 2012.4,2500.3 2014.8,2499.2 2017.2,2500.8 2019.6,2500.7 2022.0,2498.0 2024.4,2498.8 2026.8,2498.6 2029.2,2498.2 2031.6,2498.6 2034.0,2499.5 2036.0,2497.0 2038.1,2498.3 2040.1,2496.3 2042.1,2494.6 2044.2,2494.3 2046.2,2491.0 2046.5,2490.5 2046.7,2489.4 2047.0,2488.0 2047.3,2486.0 2047.5,2483.8 2047.8,2481.3 2048.1,2478.6 2048.3,2475.7 2048.6,2472.6 2048.8,2469.5 2049.1,2466.5 2049.4,2463.3 2049.6,2460.2 2049.9,2457.5 2050.1,2455.3 2050.3,2452.8 2050.5,2450.2 2050.7,2447.6 2050.9,2444.8 2051.1,2442.3 2051.3,2439.6 2051.5,2436.9 2051.7,2434.6 2051.9,2432.3 2052.1,2430.0 2052.3,2428.4 2052.7,2425.2 2053.0,2422.5 2053.4,2420.0 2053.8,2417.5 2054.1,2415.6 2054.5,2414.0" fill="none" stroke="#000" stroke-width="9.7" stroke-linejoin="round" stroke-linecap="butt"/>
<ellipse cx="471" cy="709" rx="23" ry="24.6"/>
<ellipse cx="805.8" cy="599.5" rx="23" ry="24.6"/>
<ellipse cx="1087.8" cy="645.2" rx="23" ry="24.6"/>
<ellipse cx="1162" cy="664" rx="23" ry="24.6"/>
<ellipse cx="1419.9" cy="630.2" rx="23" ry="24.6"/>
<ellipse cx="1457.4" cy="678.6" rx="23" ry="24.6"/>
<ellipse cx="1772" cy="144.7" rx="23" ry="24.6"/>
<ellipse cx="519.9" cy="1562.3" rx="23" ry="24.6"/>
<ellipse cx="806.1" cy="1550.2" rx="23" ry="24.6"/>
<ellipse cx="1178" cy="1489.1" rx="23" ry="24.6"/>
<ellipse cx="1408.8" cy="1556.2" rx="23" ry="24.6"/>
<ellipse cx="1454" cy="1542.4" rx="23" ry="24.6"/>
<text transform="translate(843.60,117.30) scale(0.9613,1)" x="-32.68" y="28.40" font-family="DejaVu Sans, sans-serif" font-size="78.01">✻</text>
<text transform="translate(630.70,551.30) scale(0.9613,1)" x="-32.68" y="28.40" font-family="DejaVu Sans, sans-serif" font-size="78.01">✻</text>
<text transform="translate(1212.30,607.20) scale(0.9613,1)" x="-32.68" y="28.40" font-family="DejaVu Sans, sans-serif" font-size="78.01">✻</text>
<text transform="translate(1308.50,664.00) scale(0.9613,1)" x="-32.68" y="28.40" font-family="DejaVu Sans, sans-serif" font-size="78.01">✻</text>
<text transform="translate(1545.00,670.00) scale(0.9613,1)" x="-32.68" y="28.40" font-family="DejaVu Sans, sans-serif" font-size="78.01">✻</text>
<text transform="translate(1695.40,639.00) scale(0.9613,1)" x="-32.68" y="28.40" font-family="DejaVu Sans, sans-serif" font-size="78.01">✻</text>
<text transform="translate(1770.00,288.80) scale(0.9613,1)" x="-32.68" y="28.40" font-family="DejaVu Sans, sans-serif" font-size="78.01">✻</text>
<text transform="translate(838.50,991.70) scale(0.9613,1)" x="-32.68" y="28.40" font-family="DejaVu Sans, sans-serif" font-size="78.01">✻</text>
<text transform="translate(636.70,1509.00) scale(0.9613,1)" x="-32.68" y="28.40" font-family="DejaVu Sans, sans-serif" font-size="78.01">✻</text>
<text transform="translate(1217.70,1546.00) scale(0.9613,1)" x="-32.68" y="28.40" font-family="DejaVu Sans, sans-serif" font-size="78.01">✻</text>
<text transform="translate(1316.20,1556.50) scale(0.9613,1)" x="-32.68" y="28.40" font-family="DejaVu Sans, sans-serif" font-size="78.01">✻</text>
<text transform="translate(1514.60,1442.20) scale(0.9613,1)" x="-32.68" y="28.40" font-family="DejaVu Sans, sans-serif" font-size="78.01">✻</text>
<text transform="translate(1698.80,1553.20) scale(0.9613,1)" x="-32.68" y="28.40" font-family="DejaVu Sans, sans-serif" font-size="78.01">✻</text>
<text transform="translate(854.80,1849.80) scale(0.9613,1)" x="-32.68" y="28.40" font-family="DejaVu Sans, sans-serif" font-size="78.01">✻</text>
<text transform="translate(197.00,1578.20) scale(0.9901,1)" x="-23.65" y="21.83" font-family="Liberation Serif, serif" font-size="94.60" stroke="#000" stroke-width="2.6" stroke-linejoin="round">o</text>
<text transform="translate(881.30,1538.00) scale(0.9901,1)" x="-23.65" y="21.83" font-family="Liberation Serif, serif" font-size="94.60" stroke="#000" stroke-width="2.6" stroke-linejoin="round">o</text>
<text transform="translate(1613.70,1021.50) scale(0.9901,1)" x="-23.65" y="21.83" font-family="Liberation Serif, serif" font-size="94.60" stroke="#000" stroke-width="2.6" stroke-linejoin="round">o</text>
<text transform="translate(197.40,2254.50) scale(0.9901,1)" x="-23.65" y="21.83" font-family="Liberation Serif, serif" font-size="94.60" stroke="#000" stroke-width="2.6" stroke-linejoin="round">o</text>
<text transform="translate(521.30,2349.00) scale(0.9901,1)" x="-23.65" y="21.83" font-family="Liberation Serif, serif" font-size="94.60" stroke="#000" stroke-width="2.6" stroke-linejoin="round">o</text>
<path d="M317.7 2141.0L347.09999999999997 2180L317.7 2219.0L288.3 2180Z"/>
<path d="M629.5 2332.5L658.9 2371.5L629.5 2410.5L600.1 2371.5Z"/>
<path d="M764.4 2022.1999999999998L793.8 2061.2L764.4 2100.2L735.0 2061.2Z"/>
<path d="M1184.6 2324.5L1214.0 2363.5L1184.6 2402.5L1155.1999999999998 2363.5Z"/>
<path d="M1244.6 2366.0L1274.0 2405L1244.6 2444.0L1215.1999999999998 2405Z"/>
<path d="M1524.5 2003.5L1553.9 2042.5L1524.5 2081.5L1495.1 2042.5Z"/>
<path d="M1747 2386.3L1776.4 2425.3L1747 2464.3L1717.6 2425.3Z"/>
<path d="M1688.5 1810.2L1717.9 1849.2L1688.5 1888.2L1659.1 1849.2Z"/>
<g fill="none" stroke="#000" stroke-width="3.2"><ellipse cx="893.9" cy="2416.7" rx="25.4" ry="26.25"/><path stroke-width="3.6" d="M874.4 2416.7H913.4M893.9 2396.7V2436.7"/></g>
<g fill="none" stroke="#000" stroke-width="3.2"><ellipse cx="1442.2" cy="2427.2" rx="25.4" ry="26.25"/><path stroke-width="3.6" d="M1422.7 2427.2H1461.7M1442.2 2407.2V2447.2"/></g>
<g fill="none" stroke="#000" stroke-width="3.2"><ellipse cx="1841.8" cy="2411.4" rx="25.4" ry="26.25"/><path stroke-width="3.6" d="M1822.3 2411.4H1861.3M1841.8 2391.4V2431.4"/></g>
<g fill="none" stroke="#000" stroke-width="3.2"><ellipse cx="1703" cy="2055.5" rx="25.4" ry="26.25"/><path stroke-width="3.6" d="M1683.5 2055.5H1722.5M1703 2035.5V2075.5"/></g>
<g fill="none" stroke="#000" stroke-width="4.4"><ellipse cx="1129.6" cy="2412.2" rx="29.3" ry="30.8"/><path stroke-width="4" d="M1102.5 2412.2H1156.6999999999998"/></g>
<g fill="none" stroke="#000" stroke-width="4.4"><ellipse cx="1689.5" cy="2412.2" rx="29.3" ry="30.8"/><path stroke-width="4" d="M1662.4 2412.2H1716.6"/></g>
<g fill="none" stroke="#000" stroke-width="4.4"><ellipse cx="1211.7" cy="1839.5" rx="34.0" ry="35.4"/><path stroke-width="4" d="M1179.9 1839.5H1243.5"/></g>
<text transform="translate(881.10,150.50) scale(0.9635,1)" font-family="Liberation Serif, serif" font-weight="bold" font-size="87.3">(011)</text>
<text transform="translate(619.31,1019.00) scale(0.9608,1)" font-family="Liberation Serif, serif" font-weight="bold" font-size="87.3">(011)</text>
<text transform="translate(1813.86,169.20) scale(0.9328,1)" font-family="Liberation Serif, serif" font-weight="bold" font-size="71.3">Mullite</text>
<text transform="translate(1826.71,312.00) scale(0.9488,1)" font-family="Liberation Serif, serif" font-weight="bold" font-size="71">Quartz</text>
<text transform="translate(1660.82,1053.90) scale(0.9618,1)" font-family="Liberation Serif, serif" font-weight="bold" font-size="90">Muscovite</text>
<text transform="translate(1314.34,1874.60) scale(0.9736,1)" font-family="Liberation Serif, serif" font-weight="bold" font-size="77">Geothite</text>
<text transform="translate(1753.10,1858.20) scale(0.9441,1)" font-family="Liberation Serif, serif" font-weight="bold" font-size="68.2">Kaolinite</text>
<text transform="translate(1742.89,1973.00) scale(0.9538,1)" font-family="Liberation Serif, serif" font-weight="bold" font-size="68">Magnesite</text>
<text transform="translate(1780.19,2081.00) scale(0.9535,1)" font-family="Liberation Serif, serif" font-weight="bold" font-size="68">Rutile</text>
<text transform="translate(245.48,2094.60) scale(0.9716,1)" font-family="Liberation Serif, serif" font-weight="bold" font-size="73">(001)</text>
<text transform="translate(98.60,2189.80) scale(0.9657,1)" font-family="Liberation Serif, serif" font-weight="bold" font-size="73">(002)</text>
<text transform="translate(375.79,2290.40) scale(0.9690,1)" font-family="Liberation Serif, serif" font-weight="bold" font-size="73">(004)</text>
<text transform="translate(563.09,2285.70) scale(0.9690,1)" font-family="Liberation Serif, serif" font-weight="bold" font-size="73">(021)</text>
<text transform="translate(628.50,1978.20) scale(0.9650,1)" font-family="Liberation Serif, serif" font-weight="bold" font-size="73">(002)</text>
<text transform="translate(928.70,1861.50) scale(0.9657,1)" font-family="Liberation Serif, serif" font-weight="bold" font-size="73">(101)</text>
<text transform="translate(1449.39,1972.50) scale(0.9621,1)" font-family="Liberation Serif, serif" font-weight="bold" font-size="73.5">(-206)</text>
<text transform="translate(862.24,2360.70) scale(0.9538,1)" font-family="Liberation Serif, serif" font-weight="bold" font-size="73">(110)</text>
<text transform="translate(954.61,2272.10) scale(1.0069,1)" font-family="Liberation Serif, serif" font-weight="bold" font-size="56.3">(104)</text>
<text transform="translate(1174.90,2280.60) scale(0.9657,1)" font-family="Liberation Serif, serif" font-weight="bold" font-size="73">(110)</text>
<text transform="translate(1244.90,2360.80) scale(0.9657,1)" font-family="Liberation Serif, serif" font-weight="bold" font-size="73">(006)</text>
<text transform="translate(1816.80,2346.30) scale(0.9650,1)" font-family="Liberation Serif, serif" font-weight="bold" font-size="73">(211)</text>
<text transform="translate(490.70,660.80) rotate(-90) scale(0.9996,1)" x="-3.87" y="0" font-family="Liberation Serif, serif" font-weight="bold" font-size="88">(110)</text>
<text transform="translate(655.70,508.80) rotate(-90) scale(0.9963,1)" x="-3.87" y="0" font-family="Liberation Serif, serif" font-weight="bold" font-size="88">(100)</text>
<text transform="translate(813.00,557.30) rotate(-90) scale(1.0023,1)" x="-3.87" y="0" font-family="Liberation Serif, serif" font-weight="bold" font-size="88">(120)</text>
<text transform="translate(1094.00,596.80) rotate(-90) scale(0.9969,1)" x="-3.87" y="0" font-family="Liberation Serif, serif" font-weight="bold" font-size="88">(220)</text>
<text transform="translate(1178.80,617.90) rotate(-90) scale(0.9930,1)" x="-3.87" y="0" font-family="Liberation Serif, serif" font-weight="bold" font-size="88">(111)</text>
<text transform="translate(1257.50,570.70) rotate(-90) scale(1.0001,1)" x="-3.87" y="0" font-family="Liberation Serif, serif" font-weight="bold" font-size="88">(110)</text>
<text transform="translate(1348.30,633.60) rotate(-90) scale(0.9958,1)" x="-3.87" y="0" font-family="Liberation Serif, serif" font-weight="bold" font-size="88">(102)</text>
<text transform="translate(1431.20,591.10) rotate(-90) scale(0.9979,1)" x="-3.87" y="0" font-family="Liberation Serif, serif" font-weight="bold" font-size="88">(230)</text>
<text transform="translate(1501.40,650.00) rotate(-90) scale(0.9996,1)" x="-3.87" y="0" font-family="Liberation Serif, serif" font-weight="bold" font-size="88">(320)</text>
<text transform="translate(1576.20,633.80) rotate(-90) scale(0.9974,1)" x="-3.87" y="0" font-family="Liberation Serif, serif" font-weight="bold" font-size="88">(201)</text>
<text transform="translate(1726.60,603.20) rotate(-90) scale(0.9952,1)" x="-3.87" y="0" font-family="Liberation Serif, serif" font-weight="bold" font-size="88">(112)</text>
<text transform="translate(219.00,1538.60) rotate(-90) scale(0.9952,1)" x="-3.87" y="0" font-family="Liberation Serif, serif" font-weight="bold" font-size="88">(002)</text>
<text transform="translate(536.00,1516.60) rotate(-90) scale(0.9914,1)" x="-3.87" y="0" font-family="Liberation Serif, serif" font-weight="bold" font-size="88">(110)</text>
<text transform="translate(670.50,1453.90) rotate(-90) scale(0.9881,1)" x="-3.87" y="0" font-family="Liberation Serif, serif" font-weight="bold" font-size="88">(100)</text>
<text transform="translate(809.20,1497.00) rotate(-90) scale(1.0012,1)" x="-3.87" y="0" font-family="Liberation Serif, serif" font-weight="bold" font-size="88">(120)</text>
<text transform="translate(937.30,1497.00) rotate(-90) scale(1.0012,1)" x="-3.87" y="0" font-family="Liberation Serif, serif" font-weight="bold" font-size="88">(114)</text>
<text transform="translate(1194.00,1440.30) rotate(-90) scale(1.0007,1)" x="-3.87" y="0" font-family="Liberation Serif, serif" font-weight="bold" font-size="88">(111)</text>
<text transform="translate(1267.80,1501.70) rotate(-90) scale(0.9974,1)" x="-3.87" y="0" font-family="Liberation Serif, serif" font-weight="bold" font-size="88">(110)</text>
<text transform="translate(1341.00,1508.50) rotate(-90) scale(0.9925,1)" x="-3.87" y="0" font-family="Liberation Serif, serif" font-weight="bold" font-size="88">(102)</text>
<text transform="translate(1416.30,1511.90) rotate(-90) scale(0.9958,1)" x="-3.87" y="0" font-family="Liberation Serif, serif" font-weight="bold" font-size="88">(230)</text>
<text transform="translate(1485.80,1501.70) rotate(-90) scale(0.9974,1)" x="-3.87" y="0" font-family="Liberation Serif, serif" font-weight="bold" font-size="88">(320)</text>
<text transform="translate(1580.70,1408.50) rotate(-90) scale(1.0012,1)" x="-3.87" y="0" font-family="Liberation Serif, serif" font-weight="bold" font-size="88">(201)</text>
<text transform="translate(1723.70,1512.50) rotate(-90) scale(0.9952,1)" x="-3.87" y="0" font-family="Liberation Serif, serif" font-weight="bold" font-size="88">(112)</text>
<text transform="translate(1148.10,2361.90) rotate(-90) scale(1.0746,1)" x="-2.62" y="0" font-family="Liberation Serif, serif" font-weight="bold" font-size="59.6">(021)</text>
<text transform="translate(1477.90,2375.00) rotate(-90) scale(0.9800,1)" x="-3.25" y="0" font-family="Liberation Serif, serif" font-weight="bold" font-size="74">(210)</text>
<text transform="translate(1701.80,2359.30) rotate(-90) scale(0.9806,1)" x="-3.25" y="0" font-family="Liberation Serif, serif" font-weight="bold" font-size="74">(211)</text>
<text transform="translate(1779.90,2359.30) rotate(-90) scale(0.9826,1)" x="-3.25" y="0" font-family="Liberation Serif, serif" font-weight="bold" font-size="74">(004)</text>
<text transform="translate(954.87,2840.00) scale(0.9534,1)" font-family="Liberation Sans, sans-serif" font-weight="bold" font-size="88.5">2θ</text>
<text font-family="Liberation Sans, sans-serif"><tspan x="1063.53" y="2841.5" font-size="85">(</tspan><tspan x="1090.94" y="2849.9" font-size="101">°</tspan><tspan x="1129.49" y="2841.5" font-size="85">)</tspan></text>
</svg></body></html>
